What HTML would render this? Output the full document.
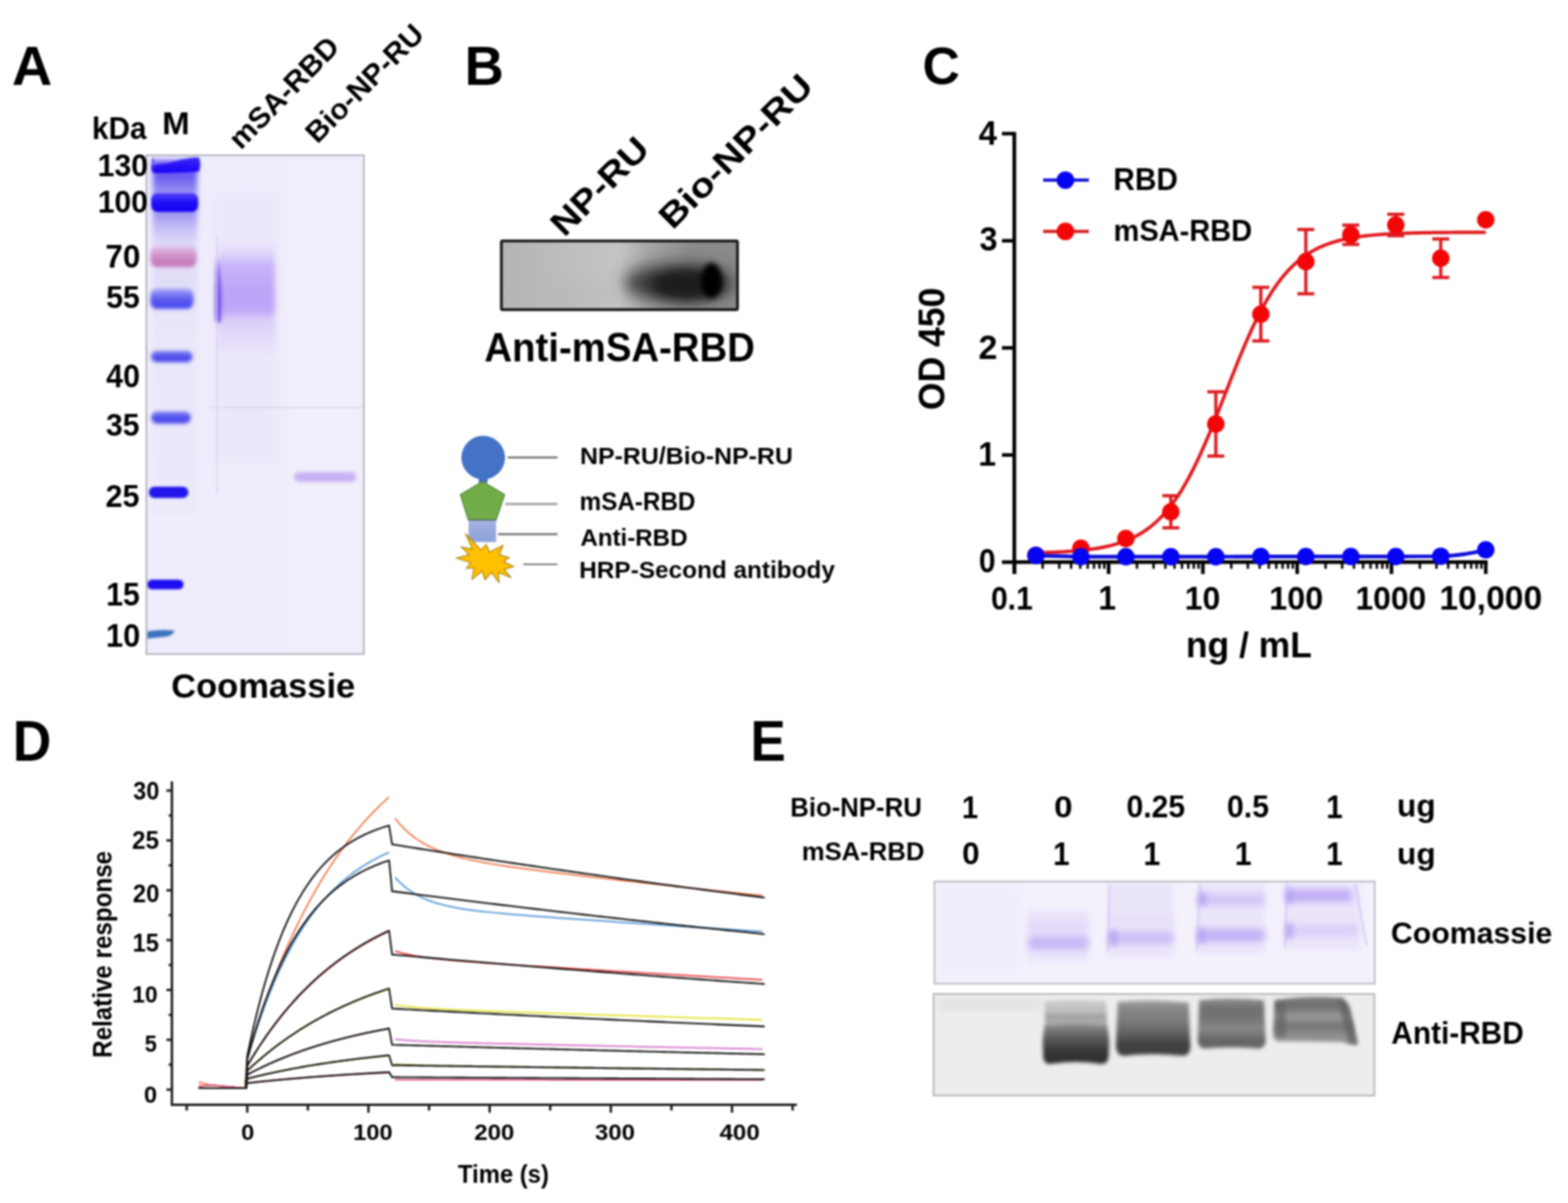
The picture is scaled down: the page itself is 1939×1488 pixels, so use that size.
<!DOCTYPE html>
<html><head><meta charset="utf-8"><title>Figure</title>
<style>
html,body{margin:0;padding:0;background:#fff;}
svg{display:block;}
#w{filter:blur(0.8px);width:1939px;height:1488px;overflow:hidden;}
text{font-family:"Liberation Sans",Arial,sans-serif;font-weight:bold;fill:#000;}
</style></head>
<body>
<div id="w">
<svg width="1939" height="1488" viewBox="0 0 1939 1488">
<defs>
<filter id="b1" filterUnits="userSpaceOnUse" x="0" y="0" width="1939" height="1488"><feGaussianBlur stdDeviation="1"/></filter>
<filter id="b2" filterUnits="userSpaceOnUse" x="0" y="0" width="1939" height="1488"><feGaussianBlur stdDeviation="2"/></filter>
<filter id="b3" filterUnits="userSpaceOnUse" x="0" y="0" width="1939" height="1488"><feGaussianBlur stdDeviation="3"/></filter>
<filter id="b4" filterUnits="userSpaceOnUse" x="0" y="0" width="1939" height="1488"><feGaussianBlur stdDeviation="4"/></filter>
<filter id="b6" filterUnits="userSpaceOnUse" x="0" y="0" width="1939" height="1488"><feGaussianBlur stdDeviation="6"/></filter>
<filter id="b10" filterUnits="userSpaceOnUse" x="0" y="0" width="1939" height="1488"><feGaussianBlur stdDeviation="10"/></filter>
<clipPath id="gelA"><rect x="182" y="193" width="267" height="615"/></clipPath><linearGradient id="mlane" x1="0" x2="0" y1="192" y2="640" gradientUnits="userSpaceOnUse">
<stop offset="0" stop-color="#6a5cf2"/><stop offset="0.06" stop-color="#6a5cf2"/><stop offset="0.1" stop-color="#9a90f3"/>
<stop offset="0.14" stop-color="#8a7ff2"/><stop offset="0.2" stop-color="#c4bef5"/><stop offset="0.24" stop-color="#dcd8f7"/>
<stop offset="0.3" stop-color="#e2dcf6"/><stop offset="0.36" stop-color="#e0def8"/><stop offset="0.45" stop-color="#e8e6f9"/>
<stop offset="1" stop-color="#eceaf9"/></linearGradient>
<linearGradient id="b130" x1="0" x2="0" y1="0" y2="1"><stop offset="0" stop-color="#3a28f4"/><stop offset="1" stop-color="#1a00f6"/></linearGradient>
<linearGradient id="b100" x1="0" x2="0" y1="0" y2="1"><stop offset="0" stop-color="#5040f4"/><stop offset="0.5" stop-color="#2010f6"/><stop offset="1" stop-color="#1800f4"/></linearGradient>
<linearGradient id="b70" x1="0" x2="0" y1="0" y2="1"><stop offset="0" stop-color="#e2c0e4"/><stop offset="0.45" stop-color="#d092c8"/><stop offset="1" stop-color="#c070b4"/></linearGradient>
<linearGradient id="b55" x1="0" x2="0" y1="0" y2="1"><stop offset="0" stop-color="#a8a8f6"/><stop offset="0.5" stop-color="#5c5cf0"/><stop offset="1" stop-color="#4444ee"/></linearGradient>
<linearGradient id="bmid" x1="0" x2="0" y1="0" y2="1"><stop offset="0" stop-color="#8080f2"/><stop offset="0.5" stop-color="#5050ee"/><stop offset="1" stop-color="#4a48ec"/></linearGradient>
<linearGradient id="smear" x1="0" x2="0" y1="0" y2="1"><stop offset="0" stop-color="#ece6fa"/><stop offset="0.1" stop-color="#e0d6fa"/><stop offset="0.2" stop-color="#c8b4f8"/>
<stop offset="0.45" stop-color="#bca4f8"/><stop offset="0.6" stop-color="#bea6f8"/><stop offset="0.68" stop-color="#dacef9"/><stop offset="1" stop-color="#ebe6f9"/></linearGradient><linearGradient id="blotg" x1="0" x2="1" y1="0" y2="0">
<stop offset="0" stop-color="#b4b4b4"/><stop offset="0.35" stop-color="#c0c0c0"/>
<stop offset="0.5" stop-color="#c4c4c4"/><stop offset="0.62" stop-color="#a8a8a8"/>
<stop offset="0.8" stop-color="#8c8c8c"/><stop offset="1" stop-color="#8a8a8a"/></linearGradient>
<clipPath id="blotc"><rect x="620" y="298" width="292" height="85"/></clipPath><linearGradient id="rbg" x1="0" x2="0" y1="0" y2="1"><stop offset="0" stop-color="#a4b2e0"/><stop offset="1" stop-color="#8ca2da"/></linearGradient><clipPath id="gelE1"><rect x="1156.5" y="1091" width="542.5" height="125"/></clipPath><clipPath id="gelE2"><rect x="1155.5" y="1230.5" width="543" height="123.5"/></clipPath><linearGradient id="wl2" x1="0" x2="0" y1="0" y2="1">
<stop offset="0" stop-color="#d2d2d2"/><stop offset="0.2" stop-color="#b8b8b8"/><stop offset="0.28" stop-color="#a2a2a2"/>
<stop offset="0.38" stop-color="#b0b0b0"/><stop offset="0.45" stop-color="#8a8a8a"/><stop offset="0.65" stop-color="#5a5a5a"/>
<stop offset="0.86" stop-color="#323232"/><stop offset="1" stop-color="#3c3c3c"/></linearGradient>
<linearGradient id="wl2a" x1="0" x2="0" y1="0" y2="1">
<stop offset="0" stop-color="#d0d0d0"/><stop offset="0.45" stop-color="#bcbcbc"/><stop offset="0.62" stop-color="#a0a0a0"/><stop offset="0.8" stop-color="#acacac"/><stop offset="1" stop-color="#a8a8a8"/></linearGradient>
<linearGradient id="wl2b" x1="0" x2="0" y1="0" y2="1">
<stop offset="0" stop-color="#8e8e8e"/><stop offset="0.35" stop-color="#5c5c5c"/><stop offset="0.7" stop-color="#353535"/><stop offset="1" stop-color="#2e2e2e"/></linearGradient>
<linearGradient id="wl3" x1="0" x2="0" y1="0" y2="1">
<stop offset="0" stop-color="#a6a6a6"/><stop offset="0.15" stop-color="#868686"/><stop offset="0.35" stop-color="#7e7e7e"/>
<stop offset="0.55" stop-color="#666666"/><stop offset="0.82" stop-color="#3e3e3e"/><stop offset="1" stop-color="#444444"/></linearGradient>
<linearGradient id="wl4" x1="0" x2="0" y1="0" y2="1">
<stop offset="0" stop-color="#8e8e8e"/><stop offset="0.22" stop-color="#6e6e6e"/><stop offset="0.5" stop-color="#7c7c7c"/>
<stop offset="0.58" stop-color="#8a8a8a"/><stop offset="0.85" stop-color="#646464"/><stop offset="1" stop-color="#6a6a6a"/></linearGradient>
<linearGradient id="wl5" x1="0" x2="0" y1="0" y2="1">
<stop offset="0" stop-color="#7a7a7a"/><stop offset="0.2" stop-color="#707070"/><stop offset="0.42" stop-color="#999999"/>
<stop offset="0.6" stop-color="#767676"/><stop offset="0.8" stop-color="#8e8e8e"/><stop offset="1" stop-color="#9a9a9a"/></linearGradient></defs>
<rect width="1939" height="1488" fill="#fff"/>
<text x="14.68" y="104.5" font-size="68.8" textLength="49.8" lengthAdjust="spacingAndGlyphs">A</text>
<text x="113.83" y="171.51" font-size="39.18" textLength="67.37" lengthAdjust="spacingAndGlyphs">kDa</text>
<text x="200.44" y="165.5" font-size="38.98" textLength="34.04" lengthAdjust="spacingAndGlyphs">M</text>
<text transform="translate(299.5,184.5) rotate(-45.5)" x="-2.41" y="0" font-size="36.0" textLength="177.0" lengthAdjust="spacingAndGlyphs">mSA-RBD</text>
<text transform="translate(394.0,177.0) rotate(-45)" x="-2.51" y="0" font-size="36.0" textLength="189.85" lengthAdjust="spacingAndGlyphs">Bio-NP-RU</text>
<rect x="181" y="192" width="269" height="617" fill="#efecfb" stroke="#b4b2bd" stroke-width="2"/>
<g clip-path="url(#gelA)">
<rect x="264" y="240" width="80" height="330" fill="#e9e3f9" filter="url(#b6)" opacity="0.55"/>
<rect x="355" y="200" width="90" height="600" fill="#f3f1fb" filter="url(#b6)" opacity="0.6"/>
<rect x="189" y="198" width="55" height="440" fill="url(#mlane)" filter="url(#b3)"/>
<path d="M188,204 Q200,204 215,200 Q232,195 246,194.5 Q249,203 246,212 Q220,214 190,214 Q186,210 188,204 Z" fill="url(#b130)" filter="url(#b1)"/>
<path d="M188,196 L191,196 L191,206 L188,206 Z" fill="#5a4af0" filter="url(#b1)"/>
<rect x="187" y="239" width="58" height="23" rx="8" fill="url(#b100)" filter="url(#b1)"/>
<rect x="186" y="305" width="57" height="25" rx="8" fill="url(#b70)" filter="url(#b2)"/>
<rect x="186" y="357" width="53" height="25" rx="8" fill="url(#b55)" filter="url(#b2)"/>
<rect x="187" y="434" width="51" height="14" rx="7.0" fill="url(#bmid)" filter="url(#b2)"/>
<rect x="187" y="509" width="49" height="15" rx="7.5" fill="url(#bmid)" filter="url(#b2)"/>
<rect x="184" y="602" width="49" height="14" rx="7.0" fill="#2418ec" filter="url(#b1)"/>
<rect x="182" y="717" width="45" height="12" rx="6.0" fill="#1a0af2" filter="url(#b1)"/>
<path d="M182,781 Q200,778 216,780 Q214,787 200,788 L182,790 Z" fill="#3b6fbe" filter="url(#b1)"/>
<rect x="269" y="300" width="71" height="140" fill="url(#smear)" filter="url(#b3)"/>
<path d="M268.5,318 Q276,355 273,398 Q268,401 266.5,396 Q265.5,355 268.5,318 Z" fill="#6e4ae8" opacity="0.95" filter="url(#b2)"/>
<rect x="267.5" y="290" width="1.6" height="320" fill="#d6cef4" opacity="0.8"/>
<rect x="364" y="584" width="76" height="12" rx="5" fill="#c6b0f4" filter="url(#b2)"/>
<rect x="260" y="503" width="190" height="2" fill="#dcd6e6" opacity="0.8"/>
</g>
<text x="120.87" y="218.01" font-size="39.58" textLength="62.26" lengthAdjust="spacingAndGlyphs">130</text>
<text x="120.88" y="262.51" font-size="38.87" textLength="61.94" lengthAdjust="spacingAndGlyphs">100</text>
<text x="130.35" y="331.4" font-size="40.28" textLength="43.19" lengthAdjust="spacingAndGlyphs">70</text>
<text x="131.18" y="380.9" font-size="39.71" textLength="41.85" lengthAdjust="spacingAndGlyphs">55</text>
<text x="131.34" y="479.2" font-size="39.86" textLength="41.75" lengthAdjust="spacingAndGlyphs">40</text>
<text x="131.06" y="538.92" font-size="38.73" textLength="41.56" lengthAdjust="spacingAndGlyphs">35</text>
<text x="130.58" y="627.01" font-size="38.87" textLength="42.05" lengthAdjust="spacingAndGlyphs">25</text>
<text x="131.15" y="748.8" font-size="39.86" textLength="41.88" lengthAdjust="spacingAndGlyphs">15</text>
<text x="131.12" y="799.8" font-size="39.72" textLength="42.4" lengthAdjust="spacingAndGlyphs">10</text>
<text x="211.8" y="863.3" font-size="42.21" textLength="227.42" lengthAdjust="spacingAndGlyphs">Coomassie</text>
<text x="574.46" y="104.8" font-size="69.24" textLength="48.54" lengthAdjust="spacingAndGlyphs">B</text>
<text transform="translate(700.0,292.0) rotate(-45)" x="-3.24" y="0" font-size="42.0" textLength="152.2" lengthAdjust="spacingAndGlyphs">NP-RU</text>
<text transform="translate(834.0,283.0) rotate(-45)" x="-3.29" y="0" font-size="42.0" textLength="249.37" lengthAdjust="spacingAndGlyphs">Bio-NP-RU</text>
<rect x="620" y="298" width="292" height="85" fill="url(#blotg)"/>
<g clip-path="url(#blotc)">
<ellipse cx="840" cy="350" rx="68" ry="24" fill="#3a3a3a" filter="url(#b10)"/>
<ellipse cx="850" cy="352" rx="45" ry="18" fill="#1e1e1e" filter="url(#b6)"/>
<ellipse cx="880" cy="347" rx="13" ry="22" fill="#000" filter="url(#b3)"/>
<ellipse cx="700" cy="365" rx="60" ry="15" fill="#b8b8b8" filter="url(#b10)" opacity="0.6"/>
</g>
<rect x="620" y="298" width="292" height="85" fill="none" stroke="#181818" stroke-width="3.4" rx="1.5"/>
<text x="599.01" y="446.5" font-size="49.16" textLength="334.59" lengthAdjust="spacingAndGlyphs">Anti-mSA-RBD</text>
<circle cx="597.5" cy="566" r="27" fill="#4472c4"/>
<path d="M589.5,588 Q592.5,591 592,597 L603,597 Q602.5,591 605.5,588 Z" fill="#4472c4"/>
<polygon points="596.7,595.5 624.1,611.9 613.6,642.9 579,642.9 569.3,611.9" fill="#70ad47" stroke="#52803a" stroke-width="1.3" stroke-linejoin="round"/>
<rect x="579.4" y="643.4" width="34" height="27" fill="url(#rbg)"/>
<line x1="579" y1="643.2" x2="613.8" y2="643.2" stroke="#4d6b63" stroke-width="1.2"/>
<polygon points="575.62,660.08 594.78,680.24 601.33,673.69 605.36,682.76 622.0,674.7 617.46,686.29 629.56,689.82 622.5,694.35 635.1,700.91 623.51,704.44 632.08,714.52 616.45,707.96 616.96,720.56 607.88,707.96 599.82,717.04 596.29,706.45 583.69,716.53 586.21,702.42 576.63,702.92 582.18,695.87 564.54,690.32 580.16,686.29 570.58,676.71 584.19,679.23" fill="#ffc000" stroke="#b08c1c" stroke-width="1.4" stroke-linejoin="miter"/>
<line x1="627.7" y1="565.8" x2="689.4" y2="565.8" stroke="#666666" stroke-width="2.2"/>
<line x1="624.9" y1="623.4" x2="689.4" y2="623.4" stroke="#a0a0a0" stroke-width="2.8"/>
<line x1="616.0" y1="660.8" x2="689.4" y2="660.8" stroke="#707070" stroke-width="2.4"/>
<line x1="647.0" y1="698.0" x2="689.4" y2="698.0" stroke="#777777" stroke-width="2.2"/>
<text x="717.32" y="573.9" font-size="29.38" textLength="263.2" lengthAdjust="spacingAndGlyphs">NP-RU/Bio-NP-RU</text>
<text x="716.75" y="631.4" font-size="30.98" textLength="143.24" lengthAdjust="spacingAndGlyphs">mSA-RBD</text>
<text x="717.65" y="674.7" font-size="30.11" textLength="132.57" lengthAdjust="spacingAndGlyphs">Anti-RBD</text>
<text x="716.37" y="714.5" font-size="29.38" textLength="316.11" lengthAdjust="spacingAndGlyphs">HRP-Second antibody</text>
<text x="1140.74" y="104.2" font-size="65.09" textLength="46.2" lengthAdjust="spacingAndGlyphs">C</text>
<line x1="1254.3" y1="163.3" x2="1254.3" y2="710.0" stroke="#000" stroke-width="4.6"/>
<line x1="1252.0" y1="695.3" x2="1839.6" y2="695.3" stroke="#000" stroke-width="4.6"/>
<line x1="1239.0" y1="695.3" x2="1254.3" y2="695.3" stroke="#000" stroke-width="4.4"/>
<text x="1210.62" y="708.08" font-size="41.84" textLength="20.61" lengthAdjust="spacingAndGlyphs">0</text>
<line x1="1239.0" y1="562.8" x2="1254.3" y2="562.8" stroke="#000" stroke-width="4.4"/>
<text x="1209.86" y="576.0" font-size="43.05" textLength="22.03" lengthAdjust="spacingAndGlyphs">1</text>
<line x1="1239.0" y1="430.3" x2="1254.3" y2="430.3" stroke="#000" stroke-width="4.4"/>
<text x="1210.03" y="443.5" font-size="42.44" textLength="23.41" lengthAdjust="spacingAndGlyphs">2</text>
<line x1="1239.0" y1="297.8" x2="1254.3" y2="297.8" stroke="#000" stroke-width="4.4"/>
<text x="1211.2" y="310.48" font-size="41.69" textLength="22.36" lengthAdjust="spacingAndGlyphs">3</text>
<line x1="1239.0" y1="165.3" x2="1254.3" y2="165.3" stroke="#000" stroke-width="4.4"/>
<text x="1210.29" y="178.5" font-size="43.05" textLength="22.66" lengthAdjust="spacingAndGlyphs">4</text>
<line x1="1254.3" y1="695.3" x2="1254.3" y2="710.0" stroke="#000" stroke-width="4.4"/>
<line x1="1370.9" y1="695.3" x2="1370.9" y2="710.0" stroke="#000" stroke-width="4.4"/>
<line x1="1487.5" y1="695.3" x2="1487.5" y2="710.0" stroke="#000" stroke-width="4.4"/>
<line x1="1604.1" y1="695.3" x2="1604.1" y2="710.0" stroke="#000" stroke-width="4.4"/>
<line x1="1720.7" y1="695.3" x2="1720.7" y2="710.0" stroke="#000" stroke-width="4.4"/>
<line x1="1837.3" y1="695.3" x2="1837.3" y2="710.0" stroke="#000" stroke-width="4.4"/>
<line x1="1289.4" y1="695.3" x2="1289.4" y2="703.5" stroke="#000" stroke-width="3"/>
<line x1="1309.93" y1="695.3" x2="1309.93" y2="703.5" stroke="#000" stroke-width="3"/>
<line x1="1324.5" y1="695.3" x2="1324.5" y2="703.5" stroke="#000" stroke-width="3"/>
<line x1="1335.8" y1="695.3" x2="1335.8" y2="703.5" stroke="#000" stroke-width="3"/>
<line x1="1345.03" y1="695.3" x2="1345.03" y2="703.5" stroke="#000" stroke-width="3"/>
<line x1="1352.84" y1="695.3" x2="1352.84" y2="703.5" stroke="#000" stroke-width="3"/>
<line x1="1359.6" y1="695.3" x2="1359.6" y2="703.5" stroke="#000" stroke-width="3"/>
<line x1="1365.56" y1="695.3" x2="1365.56" y2="703.5" stroke="#000" stroke-width="3"/>
<line x1="1406.0" y1="695.3" x2="1406.0" y2="703.5" stroke="#000" stroke-width="3"/>
<line x1="1426.53" y1="695.3" x2="1426.53" y2="703.5" stroke="#000" stroke-width="3"/>
<line x1="1441.1" y1="695.3" x2="1441.1" y2="703.5" stroke="#000" stroke-width="3"/>
<line x1="1452.4" y1="695.3" x2="1452.4" y2="703.5" stroke="#000" stroke-width="3"/>
<line x1="1461.63" y1="695.3" x2="1461.63" y2="703.5" stroke="#000" stroke-width="3"/>
<line x1="1469.44" y1="695.3" x2="1469.44" y2="703.5" stroke="#000" stroke-width="3"/>
<line x1="1476.2" y1="695.3" x2="1476.2" y2="703.5" stroke="#000" stroke-width="3"/>
<line x1="1482.16" y1="695.3" x2="1482.16" y2="703.5" stroke="#000" stroke-width="3"/>
<line x1="1522.6" y1="695.3" x2="1522.6" y2="703.5" stroke="#000" stroke-width="3"/>
<line x1="1543.13" y1="695.3" x2="1543.13" y2="703.5" stroke="#000" stroke-width="3"/>
<line x1="1557.7" y1="695.3" x2="1557.7" y2="703.5" stroke="#000" stroke-width="3"/>
<line x1="1569.0" y1="695.3" x2="1569.0" y2="703.5" stroke="#000" stroke-width="3"/>
<line x1="1578.23" y1="695.3" x2="1578.23" y2="703.5" stroke="#000" stroke-width="3"/>
<line x1="1586.04" y1="695.3" x2="1586.04" y2="703.5" stroke="#000" stroke-width="3"/>
<line x1="1592.8" y1="695.3" x2="1592.8" y2="703.5" stroke="#000" stroke-width="3"/>
<line x1="1598.76" y1="695.3" x2="1598.76" y2="703.5" stroke="#000" stroke-width="3"/>
<line x1="1639.2" y1="695.3" x2="1639.2" y2="703.5" stroke="#000" stroke-width="3"/>
<line x1="1659.73" y1="695.3" x2="1659.73" y2="703.5" stroke="#000" stroke-width="3"/>
<line x1="1674.3" y1="695.3" x2="1674.3" y2="703.5" stroke="#000" stroke-width="3"/>
<line x1="1685.6" y1="695.3" x2="1685.6" y2="703.5" stroke="#000" stroke-width="3"/>
<line x1="1694.83" y1="695.3" x2="1694.83" y2="703.5" stroke="#000" stroke-width="3"/>
<line x1="1702.64" y1="695.3" x2="1702.64" y2="703.5" stroke="#000" stroke-width="3"/>
<line x1="1709.4" y1="695.3" x2="1709.4" y2="703.5" stroke="#000" stroke-width="3"/>
<line x1="1715.36" y1="695.3" x2="1715.36" y2="703.5" stroke="#000" stroke-width="3"/>
<line x1="1755.8" y1="695.3" x2="1755.8" y2="703.5" stroke="#000" stroke-width="3"/>
<line x1="1776.33" y1="695.3" x2="1776.33" y2="703.5" stroke="#000" stroke-width="3"/>
<line x1="1790.9" y1="695.3" x2="1790.9" y2="703.5" stroke="#000" stroke-width="3"/>
<line x1="1802.2" y1="695.3" x2="1802.2" y2="703.5" stroke="#000" stroke-width="3"/>
<line x1="1811.43" y1="695.3" x2="1811.43" y2="703.5" stroke="#000" stroke-width="3"/>
<line x1="1819.24" y1="695.3" x2="1819.24" y2="703.5" stroke="#000" stroke-width="3"/>
<line x1="1826.0" y1="695.3" x2="1826.0" y2="703.5" stroke="#000" stroke-width="3"/>
<line x1="1831.96" y1="695.3" x2="1831.96" y2="703.5" stroke="#000" stroke-width="3"/>
<text x="1225.41" y="753.89" font-size="41.41" textLength="51.72" lengthAdjust="spacingAndGlyphs">0.1</text>
<text x="1358.13" y="754.3" font-size="42.62" textLength="21.81" lengthAdjust="spacingAndGlyphs">1</text>
<text x="1464.92" y="753.89" font-size="41.41" textLength="44.05" lengthAdjust="spacingAndGlyphs">10</text>
<text x="1569.4" y="753.89" font-size="41.41" textLength="66.85" lengthAdjust="spacingAndGlyphs">100</text>
<text x="1676.14" y="753.89" font-size="41.41" textLength="87.52" lengthAdjust="spacingAndGlyphs">1000</text>
<text x="1779.9" y="754.13" font-size="41.76" textLength="127.11" lengthAdjust="spacingAndGlyphs">10,000</text>
<text x="1466.55" y="813.1" font-size="43.49" textLength="155.78" lengthAdjust="spacingAndGlyphs">ng / mL</text>
<text transform="translate(1168.0,505.5) rotate(-90)" x="-1.76" y="0" font-size="45.5" textLength="151.38" lengthAdjust="spacingAndGlyphs">OD 450</text>
<path d="M1280.98,683.77 L1283.76,683.7 L1286.54,683.63 L1289.32,683.55 L1292.1,683.46 L1294.88,683.37 L1297.67,683.27 L1300.45,683.16 L1303.23,683.05 L1306.01,682.93 L1308.79,682.8 L1311.57,682.65 L1314.36,682.5 L1317.14,682.34 L1319.92,682.17 L1322.7,681.98 L1325.48,681.78 L1328.26,681.56 L1331.05,681.33 L1333.83,681.08 L1336.61,680.82 L1339.39,680.53 L1342.17,680.22 L1344.95,679.89 L1347.74,679.54 L1350.52,679.16 L1353.3,678.76 L1356.08,678.32 L1358.86,677.85 L1361.64,677.35 L1364.43,676.82 L1367.21,676.24 L1369.99,675.63 L1372.77,674.97 L1375.55,674.26 L1378.33,673.51 L1381.11,672.7 L1383.9,671.84 L1386.68,670.91 L1389.46,669.92 L1392.24,668.87 L1395.02,667.74 L1397.8,666.54 L1400.59,665.25 L1403.37,663.88 L1406.15,662.42 L1408.93,660.86 L1411.71,659.2 L1414.49,657.43 L1417.28,655.55 L1420.06,653.55 L1422.84,651.42 L1425.62,649.17 L1428.4,646.77 L1431.18,644.24 L1433.97,641.55 L1436.75,638.71 L1439.53,635.71 L1442.31,632.54 L1445.09,629.2 L1447.87,625.69 L1450.66,621.99 L1453.44,618.1 L1456.22,614.02 L1459.0,609.75 L1461.78,605.29 L1464.56,600.63 L1467.34,595.77 L1470.13,590.72 L1472.91,585.47 L1475.69,580.03 L1478.47,574.4 L1481.25,568.59 L1484.03,562.6 L1486.82,556.44 L1489.6,550.13 L1492.38,543.67 L1495.16,537.07 L1497.94,530.34 L1500.72,523.51 L1503.51,516.59 L1506.29,509.59 L1509.07,502.53 L1511.85,495.43 L1514.63,488.3 L1517.41,481.16 L1520.2,474.04 L1522.98,466.95 L1525.76,459.91 L1528.54,452.93 L1531.32,446.04 L1534.1,439.25 L1536.89,432.56 L1539.67,426.01 L1542.45,419.6 L1545.23,413.34 L1548.01,407.24 L1550.79,401.31 L1553.58,395.56 L1556.36,389.99 L1559.14,384.62 L1561.92,379.43 L1564.7,374.45 L1567.48,369.66 L1570.26,365.06 L1573.05,360.66 L1575.83,356.46 L1578.61,352.45 L1581.39,348.63 L1584.17,344.99 L1586.95,341.54 L1589.74,338.26 L1592.52,335.14 L1595.3,332.2 L1598.08,329.41 L1600.86,326.78 L1603.64,324.29 L1606.43,321.95 L1609.21,319.74 L1611.99,317.66 L1614.77,315.7 L1617.55,313.86 L1620.33,312.13 L1623.12,310.5 L1625.9,308.97 L1628.68,307.54 L1631.46,306.2 L1634.24,304.94 L1637.02,303.77 L1639.81,302.66 L1642.59,301.63 L1645.37,300.66 L1648.15,299.76 L1650.93,298.92 L1653.71,298.13 L1656.49,297.39 L1659.28,296.7 L1662.06,296.06 L1664.84,295.46 L1667.62,294.9 L1670.4,294.37 L1673.18,293.88 L1675.97,293.43 L1678.75,293.0 L1681.53,292.61 L1684.31,292.24 L1687.09,291.89 L1689.87,291.57 L1692.66,291.27 L1695.44,290.99 L1698.22,290.73 L1701.0,290.49 L1703.78,290.26 L1706.56,290.05 L1709.35,289.86 L1712.13,289.67 L1714.91,289.5 L1717.69,289.34 L1720.47,289.2 L1723.25,289.06 L1726.04,288.93 L1728.82,288.81 L1731.6,288.7 L1734.38,288.6 L1737.16,288.5 L1739.94,288.41 L1742.73,288.33 L1745.51,288.25 L1748.29,288.18 L1751.07,288.11 L1753.85,288.05 L1756.63,287.99 L1759.41,287.93 L1762.2,287.88 L1764.98,287.83 L1767.76,287.79 L1770.54,287.75 L1773.32,287.71 L1776.1,287.68 L1778.89,287.64 L1781.67,287.61 L1784.45,287.58 L1787.23,287.56 L1790.01,287.53 L1792.79,287.51 L1795.58,287.49 L1798.36,287.47 L1801.14,287.45 L1803.92,287.43 L1806.7,287.42 L1809.48,287.4 L1812.27,287.39 L1815.05,287.37 L1817.83,287.36 L1820.61,287.35 L1823.39,287.34 L1826.17,287.33 L1828.96,287.32 L1831.74,287.31 L1834.52,287.31 L1837.3,287.3" stroke="#e01a1e" stroke-width="4.2" fill="none" stroke-linejoin="round"/>
<circle cx="1280.98" cy="686.69" r="10.8" fill="#f20606"/>
<circle cx="1336.61" cy="678.07" r="10.8" fill="#f20606"/>
<circle cx="1392.24" cy="666.15" r="10.8" fill="#f20606"/>
<line x1="1447.87" y1="613.15" x2="1447.87" y2="652.9" stroke="#dc1c22" stroke-width="4"/>
<line x1="1437.37" y1="613.15" x2="1458.37" y2="613.15" stroke="#dc1c22" stroke-width="4"/>
<line x1="1437.37" y1="652.9" x2="1458.37" y2="652.9" stroke="#dc1c22" stroke-width="4"/>
<circle cx="1447.87" cy="633.02" r="10.8" fill="#f20606"/>
<line x1="1503.51" y1="484.62" x2="1503.51" y2="564.12" stroke="#dc1c22" stroke-width="4"/>
<line x1="1493.01" y1="484.62" x2="1514.01" y2="484.62" stroke="#dc1c22" stroke-width="4"/>
<line x1="1493.01" y1="564.12" x2="1514.01" y2="564.12" stroke="#dc1c22" stroke-width="4"/>
<circle cx="1503.51" cy="524.38" r="10.8" fill="#f20606"/>
<line x1="1559.14" y1="355.44" x2="1559.14" y2="421.69" stroke="#dc1c22" stroke-width="4"/>
<line x1="1548.64" y1="355.44" x2="1569.64" y2="355.44" stroke="#dc1c22" stroke-width="4"/>
<line x1="1548.64" y1="421.69" x2="1569.64" y2="421.69" stroke="#dc1c22" stroke-width="4"/>
<circle cx="1559.14" cy="388.56" r="10.8" fill="#f20606"/>
<line x1="1614.77" y1="283.89" x2="1614.77" y2="363.39" stroke="#dc1c22" stroke-width="4"/>
<line x1="1604.27" y1="283.89" x2="1625.27" y2="283.89" stroke="#dc1c22" stroke-width="4"/>
<line x1="1604.27" y1="363.39" x2="1625.27" y2="363.39" stroke="#dc1c22" stroke-width="4"/>
<circle cx="1614.77" cy="323.64" r="10.8" fill="#f20606"/>
<line x1="1670.4" y1="278.45" x2="1670.4" y2="302.3" stroke="#dc1c22" stroke-width="4"/>
<line x1="1659.9" y1="278.45" x2="1680.9" y2="278.45" stroke="#dc1c22" stroke-width="4"/>
<line x1="1659.9" y1="302.3" x2="1680.9" y2="302.3" stroke="#dc1c22" stroke-width="4"/>
<circle cx="1670.4" cy="290.38" r="10.8" fill="#f20606"/>
<line x1="1726.04" y1="265.07" x2="1726.04" y2="291.57" stroke="#dc1c22" stroke-width="4"/>
<line x1="1715.54" y1="265.07" x2="1736.54" y2="265.07" stroke="#dc1c22" stroke-width="4"/>
<line x1="1715.54" y1="291.57" x2="1736.54" y2="291.57" stroke="#dc1c22" stroke-width="4"/>
<circle cx="1726.04" cy="278.32" r="10.8" fill="#f20606"/>
<line x1="1781.67" y1="295.55" x2="1781.67" y2="343.25" stroke="#dc1c22" stroke-width="4"/>
<line x1="1771.17" y1="295.55" x2="1792.17" y2="295.55" stroke="#dc1c22" stroke-width="4"/>
<line x1="1771.17" y1="343.25" x2="1792.17" y2="343.25" stroke="#dc1c22" stroke-width="4"/>
<circle cx="1781.67" cy="319.4" r="10.8" fill="#f20606"/>
<circle cx="1837.3" cy="271.83" r="10.8" fill="#f20606"/>
<path d="M1280.98,687.08 L1336.61,688.67 L1392.24,688.67 L1447.87,688.67 L1503.51,688.67 L1559.14,688.41 L1614.77,688.41 L1670.4,688.41 L1726.04,688.41 L1781.67,688.01 Q1812.3,687.01 1837.3,680.06" stroke="#1010d8" stroke-width="4.6" fill="none"/>
<circle cx="1280.98" cy="687.08" r="10.8" fill="#0505f2"/>
<circle cx="1336.61" cy="688.67" r="10.8" fill="#0505f2"/>
<circle cx="1392.24" cy="688.67" r="10.8" fill="#0505f2"/>
<circle cx="1447.87" cy="688.67" r="10.8" fill="#0505f2"/>
<circle cx="1503.51" cy="688.67" r="10.8" fill="#0505f2"/>
<circle cx="1559.14" cy="688.41" r="10.8" fill="#0505f2"/>
<circle cx="1614.77" cy="688.41" r="10.8" fill="#0505f2"/>
<circle cx="1670.4" cy="688.41" r="10.8" fill="#0505f2"/>
<circle cx="1726.04" cy="688.41" r="10.8" fill="#0505f2"/>
<circle cx="1781.67" cy="688.01" r="10.8" fill="#0505f2"/>
<circle cx="1837.3" cy="680.06" r="10.8" fill="#0505f2"/>
<line x1="1290.0" y1="222.8" x2="1346.5" y2="222.8" stroke="#1010d0" stroke-width="4"/>
<circle cx="1317.5" cy="222.8" r="10.9" fill="#0505f2"/>
<line x1="1290.0" y1="286.2" x2="1346.5" y2="286.2" stroke="#d01c22" stroke-width="4"/>
<circle cx="1317.5" cy="286.2" r="10.9" fill="#f20606"/>
<text x="1376.81" y="235.4" font-size="38.25" textLength="79.82" lengthAdjust="spacingAndGlyphs">RBD</text>
<text x="1376.97" y="298.3" font-size="36.86" textLength="171.47" lengthAdjust="spacingAndGlyphs">mSA-RBD</text>
<text x="15.84" y="941.4" font-size="69.53" textLength="47.75" lengthAdjust="spacingAndGlyphs">D</text>
<line x1="212.6" y1="966.5" x2="212.6" y2="1367.8" stroke="#1e1e1e" stroke-width="3"/>
<line x1="211.1" y1="1366.4" x2="985.4" y2="1366.4" stroke="#1e1e1e" stroke-width="3"/>
<line x1="205.8" y1="1347.8" x2="212.6" y2="1347.8" stroke="#1e1e1e" stroke-width="3"/>
<line x1="205.8" y1="1286.15" x2="212.6" y2="1286.15" stroke="#1e1e1e" stroke-width="3"/>
<line x1="205.8" y1="1224.5" x2="212.6" y2="1224.5" stroke="#1e1e1e" stroke-width="3"/>
<line x1="205.8" y1="1162.85" x2="212.6" y2="1162.85" stroke="#1e1e1e" stroke-width="3"/>
<line x1="205.8" y1="1101.2" x2="212.6" y2="1101.2" stroke="#1e1e1e" stroke-width="3"/>
<line x1="205.8" y1="1039.55" x2="212.6" y2="1039.55" stroke="#1e1e1e" stroke-width="3"/>
<line x1="205.8" y1="977.9" x2="212.6" y2="977.9" stroke="#1e1e1e" stroke-width="3"/>
<line x1="208.6" y1="1316.97" x2="212.6" y2="1316.97" stroke="#1e1e1e" stroke-width="3"/>
<line x1="208.6" y1="1255.33" x2="212.6" y2="1255.33" stroke="#1e1e1e" stroke-width="3"/>
<line x1="208.6" y1="1193.67" x2="212.6" y2="1193.67" stroke="#1e1e1e" stroke-width="3"/>
<line x1="208.6" y1="1132.02" x2="212.6" y2="1132.02" stroke="#1e1e1e" stroke-width="3"/>
<line x1="208.6" y1="1070.38" x2="212.6" y2="1070.38" stroke="#1e1e1e" stroke-width="3"/>
<line x1="208.6" y1="1008.72" x2="212.6" y2="1008.72" stroke="#1e1e1e" stroke-width="3"/>
<line x1="230.88" y1="1366.4" x2="230.88" y2="1373.6" stroke="#1e1e1e" stroke-width="3"/>
<line x1="305.8" y1="1366.4" x2="305.8" y2="1376.3" stroke="#1e1e1e" stroke-width="3"/>
<line x1="380.73" y1="1366.4" x2="380.73" y2="1373.6" stroke="#1e1e1e" stroke-width="3"/>
<line x1="455.65" y1="1366.4" x2="455.65" y2="1376.3" stroke="#1e1e1e" stroke-width="3"/>
<line x1="530.58" y1="1366.4" x2="530.58" y2="1373.6" stroke="#1e1e1e" stroke-width="3"/>
<line x1="605.5" y1="1366.4" x2="605.5" y2="1376.3" stroke="#1e1e1e" stroke-width="3"/>
<line x1="680.42" y1="1366.4" x2="680.42" y2="1373.6" stroke="#1e1e1e" stroke-width="3"/>
<line x1="755.35" y1="1366.4" x2="755.35" y2="1376.3" stroke="#1e1e1e" stroke-width="3"/>
<line x1="830.28" y1="1366.4" x2="830.28" y2="1373.6" stroke="#1e1e1e" stroke-width="3"/>
<line x1="905.2" y1="1366.4" x2="905.2" y2="1376.3" stroke="#1e1e1e" stroke-width="3"/>
<line x1="980.12" y1="1366.4" x2="980.12" y2="1373.6" stroke="#1e1e1e" stroke-width="3"/>
<text x="164.85" y="989.22" font-size="30.56" textLength="32.07" lengthAdjust="spacingAndGlyphs">30</text>
<text x="163.35" y="1050.39" font-size="30.67" textLength="33.34" lengthAdjust="spacingAndGlyphs">25</text>
<text x="164.27" y="1115.59" font-size="30.81" textLength="32.78" lengthAdjust="spacingAndGlyphs">20</text>
<text x="164.07" y="1176.59" font-size="30.82" textLength="32.61" lengthAdjust="spacingAndGlyphs">15</text>
<text x="163.54" y="1239.61" font-size="29.12" textLength="31.36" lengthAdjust="spacingAndGlyphs">10</text>
<text x="178.93" y="1300.7" font-size="29.53" textLength="14.94" lengthAdjust="spacingAndGlyphs">5</text>
<text x="178.03" y="1364.11" font-size="28.98" textLength="16.28" lengthAdjust="spacingAndGlyphs">0</text>
<text x="298.33" y="1410.42" font-size="27.84" textLength="16.28" lengthAdjust="spacingAndGlyphs">0</text>
<text x="436.67" y="1410.42" font-size="27.84" textLength="48.83" lengthAdjust="spacingAndGlyphs">100</text>
<text x="586.46" y="1410.42" font-size="27.84" textLength="49.56" lengthAdjust="spacingAndGlyphs">200</text>
<text x="735.83" y="1410.35" font-size="27.75" textLength="49.38" lengthAdjust="spacingAndGlyphs">300</text>
<text x="889.75" y="1410.42" font-size="27.84" textLength="49.87" lengthAdjust="spacingAndGlyphs">400</text>
<text x="566.23" y="1463.0" font-size="31.71" textLength="112.57" lengthAdjust="spacingAndGlyphs">Time (s)</text>
<text transform="translate(137.6,1306.4) rotate(-90)" x="-2.02" y="0" font-size="32.5" textLength="255.86" lengthAdjust="spacingAndGlyphs">Relative response</text>
<path d="M245.86,1338.55 L260.85,1342.25 L302.8,1345.95 L305.8,1305.88 L307.3,1301.02 L308.8,1296.22 L310.3,1291.47 L311.79,1286.77 L313.29,1282.12 L314.79,1277.53 L316.29,1272.98 L317.79,1268.49 L319.29,1264.05 L320.79,1259.65 L322.28,1255.3 L323.78,1251.01 L325.28,1246.75 L326.78,1242.55 L328.28,1238.39 L329.78,1234.28 L331.27,1230.21 L332.77,1226.19 L334.27,1222.21 L335.77,1218.28 L337.27,1214.39 L338.77,1210.54 L340.27,1206.74 L341.76,1202.98 L343.26,1199.25 L344.76,1195.57 L346.26,1191.93 L347.76,1188.33 L349.26,1184.77 L350.75,1181.25 L352.25,1177.77 L353.75,1174.33 L355.25,1170.92 L356.75,1167.56 L358.25,1164.23 L359.75,1160.93 L361.24,1157.68 L362.74,1154.45 L364.24,1151.27 L365.74,1148.12 L367.24,1145.0 L368.74,1141.92 L370.24,1138.87 L371.73,1135.86 L373.23,1132.88 L374.73,1129.93 L376.23,1127.02 L377.73,1124.13 L379.23,1121.28 L380.73,1118.46 L382.22,1115.67 L383.72,1112.92 L385.22,1110.19 L386.72,1107.49 L388.22,1104.82 L389.72,1102.19 L391.21,1099.58 L392.71,1097.0 L394.21,1094.44 L395.71,1091.92 L397.21,1089.43 L398.71,1086.96 L400.21,1084.52 L401.7,1082.1 L403.2,1079.71 L404.7,1077.35 L406.2,1075.02 L407.7,1072.71 L409.2,1070.43 L410.69,1068.17 L412.19,1065.93 L413.69,1063.73 L415.19,1061.54 L416.69,1059.38 L418.19,1057.24 L419.69,1055.13 L421.18,1053.04 L422.68,1050.97 L424.18,1048.93 L425.68,1046.91 L427.18,1044.91 L428.68,1042.93 L430.18,1040.98 L431.67,1039.05 L433.17,1037.13 L434.67,1035.24 L436.17,1033.37 L437.67,1031.52 L439.17,1029.69 L440.67,1027.88 L442.16,1026.1 L443.66,1024.33 L445.16,1022.58 L446.66,1020.85 L448.16,1019.13 L449.66,1017.44 L451.15,1015.77 L452.65,1014.11 L454.15,1012.48 L455.65,1010.86 L457.15,1009.26 L458.65,1007.67 L460.15,1006.11 L461.64,1004.56 L463.14,1003.03 L464.64,1001.51 L466.14,1000.01 L467.64,998.53 L469.14,997.07 L470.63,995.62 L472.13,994.19 L473.63,992.77 L475.13,991.37 L476.63,989.98 L478.13,988.61 L479.63,987.26 L481.12,985.91 M488.62,1012.42 L491.61,1016.12 L494.61,1019.56 L497.61,1022.77 L500.61,1025.76 L503.6,1028.54 L506.6,1031.15 L509.6,1033.58 L512.59,1035.85 L515.59,1037.97 L518.59,1039.96 L521.58,1041.83 L524.58,1043.58 L527.58,1045.22 L530.58,1046.77 L533.57,1048.22 L536.57,1049.6 L539.57,1050.89 L542.56,1052.11 L545.56,1053.27 L548.56,1054.37 L551.55,1055.41 L554.55,1056.39 L557.55,1057.33 L560.55,1058.23 L563.54,1059.08 L566.54,1059.9 L569.54,1060.68 L572.53,1061.43 L575.53,1062.15 L583.02,1063.83 L590.51,1065.37 L598.01,1066.79 L605.5,1068.12 L612.99,1069.37 L620.49,1070.55 L627.98,1071.67 L635.47,1072.76 L642.96,1073.8 L650.45,1074.82 L657.95,1075.8 L665.44,1076.77 L672.93,1077.72 L680.42,1078.65 L687.92,1079.57 L695.41,1080.48 L702.9,1081.38 L710.39,1082.26 L717.89,1083.15 L725.38,1084.02 L732.87,1084.89 L740.37,1085.76 L747.86,1086.62 L755.35,1087.47 L762.84,1088.32 L770.34,1089.17 L777.83,1090.01 L785.32,1090.85 L792.81,1091.69 L800.31,1092.52 L807.8,1093.35 L815.29,1094.18 L822.78,1095.0 L830.28,1095.83 L837.77,1096.64 L845.26,1097.46 L852.75,1098.27 L860.24,1099.08 L867.74,1099.89 L875.23,1100.69 L882.72,1101.5 L890.21,1102.3 L897.71,1103.09 L905.2,1103.89 L912.69,1104.68 L920.18,1105.47 L927.68,1106.25 L935.17,1107.04 L942.66,1107.82" stroke="#f07c50" stroke-width="2.0" fill="none" stroke-linejoin="round"/>
<path d="M245.86,1343.48 L260.85,1342.25 L302.8,1345.95 L305.8,1310.19 L307.3,1305.05 L308.8,1300.0 L310.3,1295.04 L311.79,1290.17 L313.29,1285.38 L314.79,1280.67 L316.29,1276.05 L317.79,1271.51 L319.29,1267.05 L320.79,1262.66 L322.28,1258.36 L323.78,1254.13 L325.28,1249.97 L326.78,1245.89 L328.28,1241.88 L329.78,1237.94 L331.27,1234.07 L332.77,1230.26 L334.27,1226.53 L335.77,1222.86 L337.27,1219.25 L338.77,1215.71 L340.27,1212.22 L341.76,1208.8 L343.26,1205.44 L344.76,1202.14 L346.26,1198.9 L347.76,1195.72 L349.26,1192.59 L350.75,1189.51 L352.25,1186.49 L353.75,1183.52 L355.25,1180.61 L356.75,1177.74 L358.25,1174.93 L359.75,1172.16 L361.24,1169.45 L362.74,1166.78 L364.24,1164.16 L365.74,1161.58 L367.24,1159.05 L368.74,1156.57 L370.24,1154.12 L371.73,1151.73 L373.23,1149.37 L374.73,1147.05 L376.23,1144.78 L377.73,1142.54 L379.23,1140.35 L380.73,1138.19 L382.22,1136.07 L383.72,1133.99 L385.22,1131.94 L386.72,1129.93 L388.22,1127.96 L389.72,1126.02 L391.21,1124.11 L392.71,1122.24 L394.21,1120.4 L395.71,1118.6 L397.21,1116.82 L398.71,1115.08 L400.21,1113.36 L401.7,1111.68 L403.2,1110.03 L404.7,1108.4 L406.2,1106.81 L407.7,1105.24 L409.2,1103.7 L410.69,1102.19 L412.19,1100.7 L413.69,1099.24 L415.19,1097.8 L416.69,1096.39 L418.19,1095.01 L419.69,1093.65 L421.18,1092.31 L422.68,1091.0 L424.18,1089.71 L425.68,1088.44 L427.18,1087.19 L428.68,1085.97 L430.18,1084.77 L431.67,1083.59 L433.17,1082.43 L434.67,1081.29 L436.17,1080.17 L437.67,1079.07 L439.17,1077.99 L440.67,1076.93 L442.16,1075.88 L443.66,1074.86 L445.16,1073.85 L446.66,1072.86 L448.16,1071.89 L449.66,1070.94 L451.15,1070.0 L452.65,1069.08 L454.15,1068.17 L455.65,1067.28 L457.15,1066.41 L458.65,1065.55 L460.15,1064.71 L461.64,1063.88 L463.14,1063.07 L464.64,1062.27 L466.14,1061.48 L467.64,1060.71 L469.14,1059.95 L470.63,1059.21 L472.13,1058.47 L473.63,1057.76 L475.13,1057.05 L476.63,1056.36 L478.13,1055.67 L479.63,1055.0 L481.12,1054.35 M488.62,1085.17 L491.61,1088.47 L494.61,1091.51 L497.61,1094.3 L500.61,1096.87 L503.6,1099.24 L506.6,1101.42 L509.6,1103.44 L512.59,1105.29 L515.59,1107.01 L518.59,1108.6 L521.58,1110.07 L524.58,1111.44 L527.58,1112.7 L530.58,1113.88 L533.57,1114.97 L536.57,1115.99 L539.57,1116.93 L542.56,1117.82 L545.56,1118.65 L548.56,1119.42 L551.55,1120.15 L554.55,1120.83 L557.55,1121.47 L560.55,1122.08 L563.54,1122.65 L566.54,1123.19 L569.54,1123.7 L572.53,1124.19 L575.53,1124.66 L583.02,1125.72 L590.51,1126.69 L598.01,1127.56 L605.5,1128.37 L612.99,1129.12 L620.49,1129.82 L627.98,1130.49 L635.47,1131.13 L642.96,1131.75 L650.45,1132.34 L657.95,1132.93 L665.44,1133.5 L672.93,1134.06 L680.42,1134.61 L687.92,1135.15 L695.41,1135.69 L702.9,1136.22 L710.39,1136.75 L717.89,1137.28 L725.38,1137.8 L732.87,1138.32 L740.37,1138.84 L747.86,1139.35 L755.35,1139.87 L762.84,1140.38 L770.34,1140.89 L777.83,1141.39 L785.32,1141.9 L792.81,1142.41 L800.31,1142.91 L807.8,1143.41 L815.29,1143.91 L822.78,1144.41 L830.28,1144.91 L837.77,1145.41 L845.26,1145.9 L852.75,1146.39 L860.24,1146.89 L867.74,1147.38 L875.23,1147.87 L882.72,1148.36 L890.21,1148.85 L897.71,1149.33 L905.2,1149.82 L912.69,1150.3 L920.18,1150.79 L927.68,1151.27 L935.17,1151.75 L942.66,1152.23" stroke="#5d9bd8" stroke-width="2.0" fill="none" stroke-linejoin="round"/>
<path d="M245.86,1343.48 L260.85,1342.25 L302.8,1345.95 L305.8,1318.21 L307.3,1315.69 L308.8,1313.19 L310.3,1310.72 L311.79,1308.28 L313.29,1305.87 L314.79,1303.49 L316.29,1301.13 L317.79,1298.79 L319.29,1296.48 L320.79,1294.2 L322.28,1291.94 L323.78,1289.71 L325.28,1287.5 L326.78,1285.32 L328.28,1283.15 L329.78,1281.02 L331.27,1278.91 L332.77,1276.82 L334.27,1274.75 L335.77,1272.7 L337.27,1270.68 L338.77,1268.68 L340.27,1266.71 L341.76,1264.75 L343.26,1262.82 L344.76,1260.9 L346.26,1259.01 L347.76,1257.14 L349.26,1255.29 L350.75,1253.46 L352.25,1251.65 L353.75,1249.86 L355.25,1248.09 L356.75,1246.34 L358.25,1244.61 L359.75,1242.89 L361.24,1241.2 L362.74,1239.52 L364.24,1237.87 L365.74,1236.23 L367.24,1234.61 L368.74,1233.0 L370.24,1231.42 L371.73,1229.85 L373.23,1228.3 L374.73,1226.77 L376.23,1225.25 L377.73,1223.75 L379.23,1222.27 L380.73,1220.8 L382.22,1219.35 L383.72,1217.92 L385.22,1216.5 L386.72,1215.09 L388.22,1213.7 L389.72,1212.33 L391.21,1210.97 L392.71,1209.63 L394.21,1208.3 L395.71,1206.99 L397.21,1205.69 L398.71,1204.4 L400.21,1203.13 L401.7,1201.88 L403.2,1200.63 L404.7,1199.41 L406.2,1198.19 L407.7,1196.99 L409.2,1195.8 L410.69,1194.62 L412.19,1193.46 L413.69,1192.31 L415.19,1191.17 L416.69,1190.05 L418.19,1188.93 L419.69,1187.83 L421.18,1186.74 L422.68,1185.67 L424.18,1184.6 L425.68,1183.55 L427.18,1182.51 L428.68,1181.48 L430.18,1180.46 L431.67,1179.45 L433.17,1178.46 L434.67,1177.47 L436.17,1176.5 L437.67,1175.53 L439.17,1174.58 L440.67,1173.64 L442.16,1172.7 L443.66,1171.78 L445.16,1170.87 L446.66,1169.97 L448.16,1169.08 L449.66,1168.19 L451.15,1167.32 L452.65,1166.46 L454.15,1165.61 L455.65,1164.76 L457.15,1163.93 L458.65,1163.1 L460.15,1162.28 L461.64,1161.48 L463.14,1160.68 L464.64,1159.89 L466.14,1159.11 L467.64,1158.33 L469.14,1157.57 L470.63,1156.82 L472.13,1156.07 L473.63,1155.33 L475.13,1154.6 L476.63,1153.87 L478.13,1153.16 L479.63,1152.45 L481.12,1151.75 M488.62,1176.41 L491.61,1177.32 L494.61,1178.16 L497.61,1178.94 L500.61,1179.66 L503.6,1180.34 L506.6,1180.97 L509.6,1181.55 L512.59,1182.11 L515.59,1182.62 L518.59,1183.11 L521.58,1183.57 L524.58,1184.0 L527.58,1184.42 L530.58,1184.81 L533.57,1185.18 L536.57,1185.54 L539.57,1185.88 L542.56,1186.21 L545.56,1186.52 L548.56,1186.83 L551.55,1187.12 L554.55,1187.4 L557.55,1187.68 L560.55,1187.95 L563.54,1188.21 L566.54,1188.46 L569.54,1188.71 L572.53,1188.96 L575.53,1189.2 L583.02,1189.78 L590.51,1190.33 L598.01,1190.88 L605.5,1191.4 L612.99,1191.92 L620.49,1192.43 L627.98,1192.93 L635.47,1193.42 L642.96,1193.91 L650.45,1194.4 L657.95,1194.88 L665.44,1195.36 L672.93,1195.84 L680.42,1196.31 L687.92,1196.78 L695.41,1197.25 L702.9,1197.72 L710.39,1198.18 L717.89,1198.65 L725.38,1199.11 L732.87,1199.57 L740.37,1200.03 L747.86,1200.49 L755.35,1200.94 L762.84,1201.4 L770.34,1201.85 L777.83,1202.3 L785.32,1202.76 L792.81,1203.2 L800.31,1203.65 L807.8,1204.1 L815.29,1204.54 L822.78,1204.99 L830.28,1205.43 L837.77,1205.87 L845.26,1206.31 L852.75,1206.75 L860.24,1207.18 L867.74,1207.62 L875.23,1208.05 L882.72,1208.48 L890.21,1208.92 L897.71,1209.35 L905.2,1209.77 L912.69,1210.2 L920.18,1210.63 L927.68,1211.05 L935.17,1211.48 L942.66,1211.9" stroke="#e8484a" stroke-width="2.0" fill="none" stroke-linejoin="round"/>
<path d="M245.86,1343.48 L260.85,1342.25 L302.8,1345.95 L305.8,1324.37 L307.3,1322.96 L308.8,1321.56 L310.3,1320.18 L311.79,1318.8 L313.29,1317.44 L314.79,1316.09 L316.29,1314.76 L317.79,1313.43 L319.29,1312.12 L320.79,1310.82 L322.28,1309.54 L323.78,1308.26 L325.28,1307.0 L326.78,1305.75 L328.28,1304.51 L329.78,1303.28 L331.27,1302.06 L332.77,1300.86 L334.27,1299.66 L335.77,1298.48 L337.27,1297.31 L338.77,1296.15 L340.27,1295.0 L341.76,1293.86 L343.26,1292.73 L344.76,1291.61 L346.26,1290.5 L347.76,1289.4 L349.26,1288.31 L350.75,1287.23 L352.25,1286.17 L353.75,1285.11 L355.25,1284.06 L356.75,1283.02 L358.25,1281.99 L359.75,1280.97 L361.24,1279.96 L362.74,1278.96 L364.24,1277.97 L365.74,1276.99 L367.24,1276.02 L368.74,1275.05 L370.24,1274.1 L371.73,1273.15 L373.23,1272.21 L374.73,1271.28 L376.23,1270.36 L377.73,1269.45 L379.23,1268.55 L380.73,1267.65 L382.22,1266.77 L383.72,1265.89 L385.22,1265.02 L386.72,1264.16 L388.22,1263.3 L389.72,1262.46 L391.21,1261.62 L392.71,1260.79 L394.21,1259.97 L395.71,1259.15 L397.21,1258.34 L398.71,1257.54 L400.21,1256.75 L401.7,1255.97 L403.2,1255.19 L404.7,1254.42 L406.2,1253.65 L407.7,1252.9 L409.2,1252.15 L410.69,1251.4 L412.19,1250.67 L413.69,1249.94 L415.19,1249.22 L416.69,1248.5 L418.19,1247.79 L419.69,1247.09 L421.18,1246.39 L422.68,1245.7 L424.18,1245.02 L425.68,1244.35 L427.18,1243.67 L428.68,1243.01 L430.18,1242.35 L431.67,1241.7 L433.17,1241.05 L434.67,1240.41 L436.17,1239.78 L437.67,1239.15 L439.17,1238.53 L440.67,1237.91 L442.16,1237.3 L443.66,1236.7 L445.16,1236.1 L446.66,1235.51 L448.16,1234.92 L449.66,1234.33 L451.15,1233.76 L452.65,1233.18 L454.15,1232.62 L455.65,1232.06 L457.15,1231.5 L458.65,1230.95 L460.15,1230.4 L461.64,1229.86 L463.14,1229.32 L464.64,1228.79 L466.14,1228.27 L467.64,1227.75 L469.14,1227.23 L470.63,1226.72 L472.13,1226.21 L473.63,1225.71 L475.13,1225.21 L476.63,1224.72 L478.13,1224.23 L479.63,1223.75 L481.12,1223.27 M488.62,1242.99 L491.61,1243.45 L494.61,1243.88 L497.61,1244.27 L500.61,1244.63 L503.6,1244.97 L506.6,1245.29 L509.6,1245.59 L512.59,1245.87 L515.59,1246.13 L518.59,1246.38 L521.58,1246.61 L524.58,1246.83 L527.58,1247.04 L530.58,1247.24 L533.57,1247.43 L536.57,1247.62 L539.57,1247.79 L542.56,1247.96 L545.56,1248.12 L548.56,1248.27 L551.55,1248.43 L554.55,1248.57 L557.55,1248.71 L560.55,1248.85 L563.54,1248.99 L566.54,1249.12 L569.54,1249.24 L572.53,1249.37 L575.53,1249.49 L583.02,1249.79 L590.51,1250.08 L598.01,1250.36 L605.5,1250.64 L612.99,1250.91 L620.49,1251.17 L627.98,1251.43 L635.47,1251.69 L642.96,1251.95 L650.45,1252.2 L657.95,1252.45 L665.44,1252.7 L672.93,1252.95 L680.42,1253.2 L687.92,1253.45 L695.41,1253.69 L702.9,1253.94 L710.39,1254.18 L717.89,1254.42 L725.38,1254.67 L732.87,1254.91 L740.37,1255.15 L747.86,1255.39 L755.35,1255.63 L762.84,1255.87 L770.34,1256.11 L777.83,1256.35 L785.32,1256.59 L792.81,1256.82 L800.31,1257.06 L807.8,1257.29 L815.29,1257.53 L822.78,1257.76 L830.28,1258.0 L837.77,1258.23 L845.26,1258.46 L852.75,1258.7 L860.24,1258.93 L867.74,1259.16 L875.23,1259.39 L882.72,1259.62 L890.21,1259.85 L897.71,1260.07 L905.2,1260.3 L912.69,1260.53 L920.18,1260.76 L927.68,1260.98 L935.17,1261.21 L942.66,1261.43" stroke="#e6e23a" stroke-width="2.0" fill="none" stroke-linejoin="round"/>
<path d="M245.86,1343.48 L260.85,1342.25 L302.8,1345.95 L305.8,1329.31 L307.3,1328.5 L308.8,1327.71 L310.3,1326.92 L311.79,1326.14 L313.29,1325.36 L314.79,1324.6 L316.29,1323.84 L317.79,1323.09 L319.29,1322.34 L320.79,1321.6 L322.28,1320.87 L323.78,1320.15 L325.28,1319.44 L326.78,1318.73 L328.28,1318.02 L329.78,1317.33 L331.27,1316.64 L332.77,1315.96 L334.27,1315.28 L335.77,1314.61 L337.27,1313.95 L338.77,1313.29 L340.27,1312.64 L341.76,1312.0 L343.26,1311.36 L344.76,1310.73 L346.26,1310.1 L347.76,1309.48 L349.26,1308.87 L350.75,1308.26 L352.25,1307.66 L353.75,1307.06 L355.25,1306.47 L356.75,1305.88 L358.25,1305.3 L359.75,1304.73 L361.24,1304.16 L362.74,1303.6 L364.24,1303.04 L365.74,1302.49 L367.24,1301.94 L368.74,1301.4 L370.24,1300.86 L371.73,1300.33 L373.23,1299.8 L374.73,1299.28 L376.23,1298.77 L377.73,1298.26 L379.23,1297.75 L380.73,1297.25 L382.22,1296.75 L383.72,1296.26 L385.22,1295.77 L386.72,1295.29 L388.22,1294.81 L389.72,1294.34 L391.21,1293.87 L392.71,1293.4 L394.21,1292.94 L395.71,1292.49 L397.21,1292.04 L398.71,1291.59 L400.21,1291.15 L401.7,1290.71 L403.2,1290.27 L404.7,1289.84 L406.2,1289.42 L407.7,1288.99 L409.2,1288.58 L410.69,1288.16 L412.19,1287.75 L413.69,1287.35 L415.19,1286.94 L416.69,1286.55 L418.19,1286.15 L419.69,1285.76 L421.18,1285.37 L422.68,1284.99 L424.18,1284.61 L425.68,1284.24 L427.18,1283.86 L428.68,1283.49 L430.18,1283.13 L431.67,1282.77 L433.17,1282.41 L434.67,1282.05 L436.17,1281.7 L437.67,1281.35 L439.17,1281.01 L440.67,1280.67 L442.16,1280.33 L443.66,1279.99 L445.16,1279.66 L446.66,1279.33 L448.16,1279.01 L449.66,1278.69 L451.15,1278.37 L452.65,1278.05 L454.15,1277.74 L455.65,1277.43 L457.15,1277.12 L458.65,1276.82 L460.15,1276.52 L461.64,1276.22 L463.14,1275.92 L464.64,1275.63 L466.14,1275.34 L467.64,1275.05 L469.14,1274.77 L470.63,1274.49 L472.13,1274.21 L473.63,1273.93 L475.13,1273.66 L476.63,1273.38 L478.13,1273.12 L479.63,1272.85 L481.12,1272.59 M488.62,1285.53 L491.61,1285.84 L494.61,1286.12 L497.61,1286.38 L500.61,1286.62 L503.6,1286.85 L506.6,1287.06 L509.6,1287.26 L512.59,1287.44 L515.59,1287.62 L518.59,1287.78 L521.58,1287.94 L524.58,1288.08 L527.58,1288.22 L530.58,1288.35 L533.57,1288.48 L536.57,1288.6 L539.57,1288.72 L542.56,1288.83 L545.56,1288.93 L548.56,1289.04 L551.55,1289.14 L554.55,1289.23 L557.55,1289.33 L560.55,1289.42 L563.54,1289.51 L566.54,1289.59 L569.54,1289.68 L572.53,1289.76 L575.53,1289.84 L583.02,1290.04 L590.51,1290.23 L598.01,1290.41 L605.5,1290.59 L612.99,1290.77 L620.49,1290.94 L627.98,1291.12 L635.47,1291.29 L642.96,1291.45 L650.45,1291.62 L657.95,1291.78 L665.44,1291.95 L672.93,1292.11 L680.42,1292.27 L687.92,1292.44 L695.41,1292.6 L702.9,1292.76 L710.39,1292.92 L717.89,1293.08 L725.38,1293.24 L732.87,1293.39 L740.37,1293.55 L747.86,1293.71 L755.35,1293.86 L762.84,1294.02 L770.34,1294.18 L777.83,1294.33 L785.32,1294.49 L792.81,1294.64 L800.31,1294.8 L807.8,1294.95 L815.29,1295.1 L822.78,1295.25 L830.28,1295.41 L837.77,1295.56 L845.26,1295.71 L852.75,1295.86 L860.24,1296.01 L867.74,1296.16 L875.23,1296.31 L882.72,1296.46 L890.21,1296.61 L897.71,1296.76 L905.2,1296.9 L912.69,1297.05 L920.18,1297.2 L927.68,1297.35 L935.17,1297.49 L942.66,1297.64" stroke="#d77ad0" stroke-width="2.0" fill="none" stroke-linejoin="round"/>
<path d="M245.86,1343.48 L260.85,1342.25 L302.8,1345.95 L305.8,1334.24 L307.3,1333.85 L308.8,1333.47 L310.3,1333.09 L311.79,1332.72 L313.29,1332.35 L314.79,1331.98 L316.29,1331.61 L317.79,1331.25 L319.29,1330.89 L320.79,1330.54 L322.28,1330.19 L323.78,1329.84 L325.28,1329.49 L326.78,1329.15 L328.28,1328.81 L329.78,1328.47 L331.27,1328.13 L332.77,1327.8 L334.27,1327.47 L335.77,1327.15 L337.27,1326.83 L338.77,1326.5 L340.27,1326.19 L341.76,1325.87 L343.26,1325.56 L344.76,1325.25 L346.26,1324.94 L347.76,1324.64 L349.26,1324.34 L350.75,1324.04 L352.25,1323.74 L353.75,1323.45 L355.25,1323.16 L356.75,1322.87 L358.25,1322.58 L359.75,1322.3 L361.24,1322.02 L362.74,1321.74 L364.24,1321.46 L365.74,1321.19 L367.24,1320.92 L368.74,1320.65 L370.24,1320.38 L371.73,1320.12 L373.23,1319.86 L374.73,1319.6 L376.23,1319.34 L377.73,1319.08 L379.23,1318.83 L380.73,1318.58 L382.22,1318.33 L383.72,1318.08 L385.22,1317.84 L386.72,1317.59 L388.22,1317.35 L389.72,1317.12 L391.21,1316.88 L392.71,1316.65 L394.21,1316.41 L395.71,1316.18 L397.21,1315.95 L398.71,1315.73 L400.21,1315.5 L401.7,1315.28 L403.2,1315.06 L404.7,1314.84 L406.2,1314.63 L407.7,1314.41 L409.2,1314.2 L410.69,1313.99 L412.19,1313.78 L413.69,1313.57 L415.19,1313.36 L416.69,1313.16 L418.19,1312.96 L419.69,1312.76 L421.18,1312.56 L422.68,1312.36 L424.18,1312.17 L425.68,1311.97 L427.18,1311.78 L428.68,1311.59 L430.18,1311.4 L431.67,1311.22 L433.17,1311.03 L434.67,1310.85 L436.17,1310.67 L437.67,1310.49 L439.17,1310.31 L440.67,1310.13 L442.16,1309.95 L443.66,1309.78 L445.16,1309.61 L446.66,1309.43 L448.16,1309.26 L449.66,1309.1 L451.15,1308.93 L452.65,1308.76 L454.15,1308.6 L455.65,1308.44 L457.15,1308.28 L458.65,1308.12 L460.15,1307.96 L461.64,1307.8 L463.14,1307.64 L464.64,1307.49 L466.14,1307.34 L467.64,1307.19 L469.14,1307.04 L470.63,1306.89 L472.13,1306.74 L473.63,1306.59 L475.13,1306.45 L476.63,1306.3 L478.13,1306.16 L479.63,1306.02 L481.12,1305.88 M488.62,1316.36 L491.61,1316.52 L494.61,1316.67 L497.61,1316.8 L500.61,1316.93 L503.6,1317.05 L506.6,1317.17 L509.6,1317.27 L512.59,1317.37 L515.59,1317.47 L518.59,1317.56 L521.58,1317.64 L524.58,1317.72 L527.58,1317.8 L530.58,1317.87 L533.57,1317.94 L536.57,1318.01 L539.57,1318.08 L542.56,1318.14 L545.56,1318.2 L548.56,1318.26 L551.55,1318.32 L554.55,1318.37 L557.55,1318.43 L560.55,1318.48 L563.54,1318.53 L566.54,1318.58 L569.54,1318.63 L572.53,1318.68 L575.53,1318.73 L583.02,1318.84 L590.51,1318.95 L598.01,1319.06 L605.5,1319.17 L612.99,1319.28 L620.49,1319.38 L627.98,1319.48 L635.47,1319.59 L642.96,1319.69 L650.45,1319.79 L657.95,1319.88 L665.44,1319.98 L672.93,1320.08 L680.42,1320.18 L687.92,1320.28 L695.41,1320.37 L702.9,1320.47 L710.39,1320.56 L717.89,1320.66 L725.38,1320.75 L732.87,1320.85 L740.37,1320.94 L747.86,1321.04 L755.35,1321.13 L762.84,1321.22 L770.34,1321.32 L777.83,1321.41 L785.32,1321.5 L792.81,1321.59 L800.31,1321.68 L807.8,1321.78 L815.29,1321.87 L822.78,1321.96 L830.28,1322.05 L837.77,1322.14 L845.26,1322.23 L852.75,1322.32 L860.24,1322.41 L867.74,1322.49 L875.23,1322.58 L882.72,1322.67 L890.21,1322.76 L897.71,1322.85 L905.2,1322.93 L912.69,1323.02 L920.18,1323.11 L927.68,1323.19 L935.17,1323.28 L942.66,1323.36" stroke="#c8b432" stroke-width="2.0" fill="none" stroke-linejoin="round"/>
<path d="M245.86,1343.48 L260.85,1342.25 L302.8,1345.95 L305.8,1339.66 L307.3,1339.49 L308.8,1339.32 L310.3,1339.15 L311.79,1338.99 L313.29,1338.82 L314.79,1338.65 L316.29,1338.49 L317.79,1338.33 L319.29,1338.17 L320.79,1338.01 L322.28,1337.85 L323.78,1337.7 L325.28,1337.54 L326.78,1337.39 L328.28,1337.24 L329.78,1337.09 L331.27,1336.94 L332.77,1336.79 L334.27,1336.64 L335.77,1336.49 L337.27,1336.35 L338.77,1336.2 L340.27,1336.06 L341.76,1335.92 L343.26,1335.78 L344.76,1335.64 L346.26,1335.5 L347.76,1335.37 L349.26,1335.23 L350.75,1335.1 L352.25,1334.96 L353.75,1334.83 L355.25,1334.7 L356.75,1334.57 L358.25,1334.44 L359.75,1334.31 L361.24,1334.19 L362.74,1334.06 L364.24,1333.94 L365.74,1333.81 L367.24,1333.69 L368.74,1333.57 L370.24,1333.45 L371.73,1333.33 L373.23,1333.21 L374.73,1333.09 L376.23,1332.98 L377.73,1332.86 L379.23,1332.75 L380.73,1332.63 L382.22,1332.52 L383.72,1332.41 L385.22,1332.3 L386.72,1332.19 L388.22,1332.08 L389.72,1331.97 L391.21,1331.87 L392.71,1331.76 L394.21,1331.65 L395.71,1331.55 L397.21,1331.45 L398.71,1331.34 L400.21,1331.24 L401.7,1331.14 L403.2,1331.04 L404.7,1330.94 L406.2,1330.84 L407.7,1330.74 L409.2,1330.65 L410.69,1330.55 L412.19,1330.46 L413.69,1330.36 L415.19,1330.27 L416.69,1330.18 L418.19,1330.08 L419.69,1329.99 L421.18,1329.9 L422.68,1329.81 L424.18,1329.72 L425.68,1329.63 L427.18,1329.55 L428.68,1329.46 L430.18,1329.37 L431.67,1329.29 L433.17,1329.2 L434.67,1329.12 L436.17,1329.04 L437.67,1328.95 L439.17,1328.87 L440.67,1328.79 L442.16,1328.71 L443.66,1328.63 L445.16,1328.55 L446.66,1328.47 L448.16,1328.4 L449.66,1328.32 L451.15,1328.24 L452.65,1328.17 L454.15,1328.09 L455.65,1328.02 L457.15,1327.94 L458.65,1327.87 L460.15,1327.8 L461.64,1327.72 L463.14,1327.65 L464.64,1327.58 L466.14,1327.51 L467.64,1327.44 L469.14,1327.37 L470.63,1327.3 L472.13,1327.24 L473.63,1327.17 L475.13,1327.1 L476.63,1327.03 L478.13,1326.97 L479.63,1326.9 L481.12,1326.84 M488.62,1335.47 L491.61,1335.47 L494.61,1335.47 L497.61,1335.48 L500.61,1335.48 L503.6,1335.48 L506.6,1335.48 L509.6,1335.49 L512.59,1335.49 L515.59,1335.49 L518.59,1335.49 L521.58,1335.5 L524.58,1335.5 L527.58,1335.5 L530.58,1335.5 L533.57,1335.51 L536.57,1335.51 L539.57,1335.51 L542.56,1335.51 L545.56,1335.52 L548.56,1335.52 L551.55,1335.52 L554.55,1335.52 L557.55,1335.53 L560.55,1335.53 L563.54,1335.53 L566.54,1335.53 L569.54,1335.54 L572.53,1335.54 L575.53,1335.54 L583.02,1335.55 L590.51,1335.55 L598.01,1335.56 L605.5,1335.57 L612.99,1335.57 L620.49,1335.58 L627.98,1335.58 L635.47,1335.59 L642.96,1335.6 L650.45,1335.6 L657.95,1335.61 L665.44,1335.61 L672.93,1335.62 L680.42,1335.63 L687.92,1335.63 L695.41,1335.64 L702.9,1335.65 L710.39,1335.65 L717.89,1335.66 L725.38,1335.66 L732.87,1335.67 L740.37,1335.68 L747.86,1335.68 L755.35,1335.69 L762.84,1335.69 L770.34,1335.7 L777.83,1335.71 L785.32,1335.71 L792.81,1335.72 L800.31,1335.72 L807.8,1335.73 L815.29,1335.74 L822.78,1335.74 L830.28,1335.75 L837.77,1335.75 L845.26,1335.76 L852.75,1335.77 L860.24,1335.77 L867.74,1335.78 L875.23,1335.78 L882.72,1335.79 L890.21,1335.8 L897.71,1335.8 L905.2,1335.81 L912.69,1335.81 L920.18,1335.82 L927.68,1335.83 L935.17,1335.83 L942.66,1335.84" stroke="#dc5a8c" stroke-width="2.0" fill="none" stroke-linejoin="round"/>
<path d="M245.86,1345.95 L304.3,1345.95 L305.8,1305.88 L307.3,1298.67 L308.8,1291.63 L310.3,1284.76 L311.79,1278.05 L313.29,1271.51 L314.79,1265.12 L316.29,1258.88 L317.79,1252.79 L319.29,1246.84 L320.79,1241.04 L322.28,1235.37 L323.78,1229.84 L325.28,1224.44 L326.78,1219.17 L328.28,1214.02 L329.78,1209.0 L331.27,1204.1 L332.77,1199.31 L334.27,1194.64 L335.77,1190.07 L337.27,1185.62 L338.77,1181.27 L340.27,1177.03 L341.76,1172.89 L343.26,1168.84 L344.76,1164.89 L346.26,1161.04 L347.76,1157.28 L349.26,1153.61 L350.75,1150.02 L352.25,1146.52 L353.75,1143.1 L355.25,1139.77 L356.75,1136.51 L358.25,1133.33 L359.75,1130.23 L361.24,1127.2 L362.74,1124.25 L364.24,1121.36 L365.74,1118.54 L367.24,1115.79 L368.74,1113.11 L370.24,1110.48 L371.73,1107.93 L373.23,1105.43 L374.73,1102.99 L376.23,1100.61 L377.73,1098.29 L379.23,1096.02 L380.73,1093.8 L382.22,1091.64 L383.72,1089.53 L385.22,1087.47 L386.72,1085.46 L388.22,1083.5 L389.72,1081.58 L391.21,1079.71 L392.71,1077.88 L394.21,1076.1 L395.71,1074.36 L397.21,1072.66 L398.71,1071.0 L400.21,1069.38 L401.7,1067.8 L403.2,1066.26 L404.7,1064.75 L406.2,1063.28 L407.7,1061.85 L409.2,1060.44 L410.69,1059.08 L412.19,1057.74 L413.69,1056.44 L415.19,1055.16 L416.69,1053.92 L418.19,1052.71 L419.69,1051.53 L421.18,1050.37 L422.68,1049.24 L424.18,1048.14 L425.68,1047.07 L427.18,1046.02 L428.68,1044.99 L430.18,1043.99 L431.67,1043.02 L433.17,1042.06 L434.67,1041.13 L436.17,1040.22 L437.67,1039.34 L439.17,1038.47 L440.67,1037.63 L442.16,1036.8 L443.66,1036.0 L445.16,1035.21 L446.66,1034.44 L448.16,1033.69 L449.66,1032.96 L451.15,1032.25 L452.65,1031.55 L454.15,1030.87 L455.65,1030.21 L457.15,1029.56 L458.65,1028.93 L460.15,1028.31 L461.64,1027.71 L463.14,1027.12 L464.64,1026.54 L466.14,1025.98 L467.64,1025.43 L469.14,1024.9 L470.63,1024.38 L472.13,1023.87 L473.63,1023.37 L475.13,1022.88 L476.63,1022.41 L478.13,1021.95 L479.63,1021.5 L481.12,1021.05 L484.87,1044.36 L490.86,1045.33 L496.86,1046.29 L502.85,1047.25 L508.85,1048.21 L514.84,1049.16 L520.83,1050.11 L526.83,1051.06 L532.82,1052.0 L538.82,1052.94 L544.81,1053.88 L550.8,1054.82 L556.8,1055.75 L562.79,1056.68 L568.79,1057.61 L574.78,1058.53 L580.77,1059.45 L586.77,1060.37 L592.76,1061.29 L598.76,1062.2 L604.75,1063.11 L610.74,1064.01 L616.74,1064.92 L622.73,1065.82 L628.73,1066.72 L634.72,1067.61 L640.71,1068.5 L646.71,1069.39 L652.7,1070.28 L658.7,1071.16 L664.69,1072.04 L670.68,1072.92 L676.68,1073.79 L682.67,1074.67 L688.67,1075.54 L694.66,1076.4 L700.65,1077.27 L706.65,1078.13 L712.64,1078.99 L718.64,1079.84 L724.63,1080.7 L730.62,1081.55 L736.62,1082.39 L742.61,1083.24 L748.61,1084.08 L754.6,1084.92 L760.59,1085.76 L766.59,1086.59 L772.58,1087.42 L778.58,1088.25 L784.57,1089.08 L790.56,1089.9 L796.56,1090.72 L802.55,1091.54 L808.55,1092.36 L814.54,1093.17 L820.53,1093.98 L826.53,1094.79 L832.52,1095.59 L838.52,1096.4 L844.51,1097.2 L850.5,1097.99 L856.5,1098.79 L862.49,1099.58 L868.49,1100.37 L874.48,1101.16 L880.47,1101.95 L886.47,1102.73 L892.46,1103.51 L898.46,1104.29 L904.45,1105.06 L910.44,1105.83 L916.44,1106.6 L922.43,1107.37 L928.43,1108.14 L934.42,1108.9 L940.41,1109.66 L945.66,1110.32" stroke="#141414" stroke-width="2.1" fill="none" stroke-linejoin="round"/>
<path d="M245.86,1345.95 L304.3,1345.95 L305.8,1310.19 L307.3,1304.63 L308.8,1299.19 L310.3,1293.85 L311.79,1288.63 L313.29,1283.52 L314.79,1278.51 L316.29,1273.6 L317.79,1268.79 L319.29,1264.09 L320.79,1259.48 L322.28,1254.96 L323.78,1250.54 L325.28,1246.21 L326.78,1241.97 L328.28,1237.82 L329.78,1233.75 L331.27,1229.77 L332.77,1225.87 L334.27,1222.05 L335.77,1218.31 L337.27,1214.64 L338.77,1211.05 L340.27,1207.54 L341.76,1204.1 L343.26,1200.73 L344.76,1197.42 L346.26,1194.19 L347.76,1191.02 L349.26,1187.92 L350.75,1184.88 L352.25,1181.91 L353.75,1179.0 L355.25,1176.14 L356.75,1173.35 L358.25,1170.61 L359.75,1167.93 L361.24,1165.31 L362.74,1162.73 L364.24,1160.22 L365.74,1157.75 L367.24,1155.34 L368.74,1152.97 L370.24,1150.65 L371.73,1148.39 L373.23,1146.16 L374.73,1143.99 L376.23,1141.86 L377.73,1139.77 L379.23,1137.73 L380.73,1135.72 L382.22,1133.76 L383.72,1131.84 L385.22,1129.96 L386.72,1128.12 L388.22,1126.32 L389.72,1124.55 L391.21,1122.82 L392.71,1121.13 L394.21,1119.47 L395.71,1117.84 L397.21,1116.25 L398.71,1114.69 L400.21,1113.17 L401.7,1111.67 L403.2,1110.21 L404.7,1108.77 L406.2,1107.37 L407.7,1105.99 L409.2,1104.65 L410.69,1103.33 L412.19,1102.03 L413.69,1100.77 L415.19,1099.53 L416.69,1098.32 L418.19,1097.13 L419.69,1095.96 L421.18,1094.82 L422.68,1093.71 L424.18,1092.61 L425.68,1091.54 L427.18,1090.49 L428.68,1089.47 L430.18,1088.46 L431.67,1087.47 L433.17,1086.51 L434.67,1085.56 L436.17,1084.64 L437.67,1083.73 L439.17,1082.84 L440.67,1081.97 L442.16,1081.12 L443.66,1080.29 L445.16,1079.47 L446.66,1078.67 L448.16,1077.89 L449.66,1077.12 L451.15,1076.37 L452.65,1075.63 L454.15,1074.91 L455.65,1074.21 L457.15,1073.52 L458.65,1072.84 L460.15,1072.18 L461.64,1071.53 L463.14,1070.89 L464.64,1070.27 L466.14,1069.66 L467.64,1069.06 L469.14,1068.48 L470.63,1067.9 L472.13,1067.34 L473.63,1066.79 L475.13,1066.25 L476.63,1065.73 L478.13,1065.21 L479.63,1064.71 L481.12,1064.21 L484.87,1102.34 L490.86,1103.11 L496.86,1103.89 L502.85,1104.66 L508.85,1105.43 L514.84,1106.2 L520.83,1106.96 L526.83,1107.73 L532.82,1108.49 L538.82,1109.24 L544.81,1110.0 L550.8,1110.75 L556.8,1111.5 L562.79,1112.25 L568.79,1113.0 L574.78,1113.74 L580.77,1114.48 L586.77,1115.22 L592.76,1115.96 L598.76,1116.69 L604.75,1117.42 L610.74,1118.15 L616.74,1118.88 L622.73,1119.61 L628.73,1120.33 L634.72,1121.05 L640.71,1121.77 L646.71,1122.48 L652.7,1123.2 L658.7,1123.91 L664.69,1124.62 L670.68,1125.32 L676.68,1126.03 L682.67,1126.73 L688.67,1127.43 L694.66,1128.13 L700.65,1128.82 L706.65,1129.52 L712.64,1130.21 L718.64,1130.9 L724.63,1131.59 L730.62,1132.27 L736.62,1132.95 L742.61,1133.63 L748.61,1134.31 L754.6,1134.99 L760.59,1135.66 L766.59,1136.33 L772.58,1137.0 L778.58,1137.67 L784.57,1138.34 L790.56,1139.0 L796.56,1139.66 L802.55,1140.32 L808.55,1140.98 L814.54,1141.63 L820.53,1142.28 L826.53,1142.94 L832.52,1143.58 L838.52,1144.23 L844.51,1144.88 L850.5,1145.52 L856.5,1146.16 L862.49,1146.8 L868.49,1147.43 L874.48,1148.07 L880.47,1148.7 L886.47,1149.33 L892.46,1149.96 L898.46,1150.59 L904.45,1151.21 L910.44,1151.83 L916.44,1152.45 L922.43,1153.07 L928.43,1153.69 L934.42,1154.3 L940.41,1154.92 L945.66,1155.45" stroke="#141414" stroke-width="2.1" fill="none" stroke-linejoin="round"/>
<path d="M245.86,1345.95 L304.3,1345.95 L305.8,1318.21 L307.3,1315.66 L308.8,1313.15 L310.3,1310.66 L311.79,1308.2 L313.29,1305.77 L314.79,1303.36 L316.29,1300.98 L317.79,1298.63 L319.29,1296.3 L320.79,1294.0 L322.28,1291.72 L323.78,1289.47 L325.28,1287.25 L326.78,1285.05 L328.28,1282.87 L329.78,1280.72 L331.27,1278.59 L332.77,1276.49 L334.27,1274.41 L335.77,1272.35 L337.27,1270.31 L338.77,1268.3 L340.27,1266.31 L341.76,1264.34 L343.26,1262.4 L344.76,1260.47 L346.26,1258.57 L347.76,1256.69 L349.26,1254.83 L350.75,1252.99 L352.25,1251.17 L353.75,1249.37 L355.25,1247.59 L356.75,1245.83 L358.25,1244.09 L359.75,1242.37 L361.24,1240.66 L362.74,1238.98 L364.24,1237.32 L365.74,1235.67 L367.24,1234.04 L368.74,1232.43 L370.24,1230.84 L371.73,1229.27 L373.23,1227.71 L374.73,1226.17 L376.23,1224.65 L377.73,1223.14 L379.23,1221.66 L380.73,1220.18 L382.22,1218.73 L383.72,1217.29 L385.22,1215.87 L386.72,1214.46 L388.22,1213.07 L389.72,1211.69 L391.21,1210.33 L392.71,1208.98 L394.21,1207.65 L395.71,1206.33 L397.21,1205.03 L398.71,1203.75 L400.21,1202.47 L401.7,1201.21 L403.2,1199.97 L404.7,1198.74 L406.2,1197.52 L407.7,1196.32 L409.2,1195.13 L410.69,1193.95 L412.19,1192.78 L413.69,1191.63 L415.19,1190.49 L416.69,1189.37 L418.19,1188.25 L419.69,1187.15 L421.18,1186.06 L422.68,1184.99 L424.18,1183.92 L425.68,1182.87 L427.18,1181.83 L428.68,1180.8 L430.18,1179.78 L431.67,1178.77 L433.17,1177.78 L434.67,1176.79 L436.17,1175.82 L437.67,1174.86 L439.17,1173.91 L440.67,1172.96 L442.16,1172.03 L443.66,1171.11 L445.16,1170.2 L446.66,1169.3 L448.16,1168.41 L449.66,1167.53 L451.15,1166.66 L452.65,1165.8 L454.15,1164.95 L455.65,1164.1 L457.15,1163.27 L458.65,1162.45 L460.15,1161.63 L461.64,1160.83 L463.14,1160.03 L464.64,1159.24 L466.14,1158.46 L467.64,1157.69 L469.14,1156.93 L470.63,1156.18 L472.13,1155.43 L473.63,1154.7 L475.13,1153.97 L476.63,1153.25 L478.13,1152.54 L479.63,1151.83 L481.12,1151.14 L484.87,1180.66 L490.86,1181.2 L496.86,1181.73 L502.85,1182.26 L508.85,1182.79 L514.84,1183.31 L520.83,1183.84 L526.83,1184.36 L532.82,1184.88 L538.82,1185.41 L544.81,1185.92 L550.8,1186.44 L556.8,1186.96 L562.79,1187.47 L568.79,1187.98 L574.78,1188.49 L580.77,1189.0 L586.77,1189.51 L592.76,1190.01 L598.76,1190.52 L604.75,1191.02 L610.74,1191.52 L616.74,1192.02 L622.73,1192.52 L628.73,1193.01 L634.72,1193.51 L640.71,1194.0 L646.71,1194.49 L652.7,1194.98 L658.7,1195.47 L664.69,1195.96 L670.68,1196.44 L676.68,1196.93 L682.67,1197.41 L688.67,1197.89 L694.66,1198.37 L700.65,1198.84 L706.65,1199.32 L712.64,1199.79 L718.64,1200.27 L724.63,1200.74 L730.62,1201.21 L736.62,1201.68 L742.61,1202.14 L748.61,1202.61 L754.6,1203.07 L760.59,1203.53 L766.59,1203.99 L772.58,1204.45 L778.58,1204.91 L784.57,1205.37 L790.56,1205.82 L796.56,1206.28 L802.55,1206.73 L808.55,1207.18 L814.54,1207.63 L820.53,1208.08 L826.53,1208.52 L832.52,1208.97 L838.52,1209.41 L844.51,1209.85 L850.5,1210.29 L856.5,1210.73 L862.49,1211.17 L868.49,1211.61 L874.48,1212.04 L880.47,1212.47 L886.47,1212.91 L892.46,1213.34 L898.46,1213.77 L904.45,1214.2 L910.44,1214.62 L916.44,1215.05 L922.43,1215.47 L928.43,1215.89 L934.42,1216.32 L940.41,1216.74 L945.66,1217.1" stroke="#141414" stroke-width="2.1" fill="none" stroke-linejoin="round"/>
<path d="M245.86,1345.95 L304.3,1345.95 L305.8,1324.37 L307.3,1322.97 L308.8,1321.58 L310.3,1320.2 L311.79,1318.83 L313.29,1317.48 L314.79,1316.13 L316.29,1314.8 L317.79,1313.48 L319.29,1312.18 L320.79,1310.88 L322.28,1309.6 L323.78,1308.33 L325.28,1307.07 L326.78,1305.82 L328.28,1304.58 L329.78,1303.36 L331.27,1302.14 L332.77,1300.94 L334.27,1299.75 L335.77,1298.56 L337.27,1297.39 L338.77,1296.23 L340.27,1295.08 L341.76,1293.94 L343.26,1292.81 L344.76,1291.69 L346.26,1290.58 L347.76,1289.48 L349.26,1288.39 L350.75,1287.31 L352.25,1286.24 L353.75,1285.18 L355.25,1284.13 L356.75,1283.09 L358.25,1282.06 L359.75,1281.04 L361.24,1280.02 L362.74,1279.02 L364.24,1278.02 L365.74,1277.04 L367.24,1276.06 L368.74,1275.09 L370.24,1274.13 L371.73,1273.18 L373.23,1272.24 L374.73,1271.31 L376.23,1270.38 L377.73,1269.46 L379.23,1268.56 L380.73,1267.65 L382.22,1266.76 L383.72,1265.88 L385.22,1265.0 L386.72,1264.13 L388.22,1263.27 L389.72,1262.42 L391.21,1261.58 L392.71,1260.74 L394.21,1259.91 L395.71,1259.09 L397.21,1258.27 L398.71,1257.46 L400.21,1256.66 L401.7,1255.87 L403.2,1255.08 L404.7,1254.3 L406.2,1253.53 L407.7,1252.77 L409.2,1252.01 L410.69,1251.26 L412.19,1250.51 L413.69,1249.78 L415.19,1249.05 L416.69,1248.32 L418.19,1247.6 L419.69,1246.89 L421.18,1246.19 L422.68,1245.49 L424.18,1244.8 L425.68,1244.11 L427.18,1243.43 L428.68,1242.76 L430.18,1242.09 L431.67,1241.43 L433.17,1240.77 L434.67,1240.12 L436.17,1239.48 L437.67,1238.84 L439.17,1238.21 L440.67,1237.58 L442.16,1236.96 L443.66,1236.35 L445.16,1235.74 L446.66,1235.13 L448.16,1234.54 L449.66,1233.94 L451.15,1233.35 L452.65,1232.77 L454.15,1232.19 L455.65,1231.62 L457.15,1231.06 L458.65,1230.49 L460.15,1229.94 L461.64,1229.39 L463.14,1228.84 L464.64,1228.3 L466.14,1227.76 L467.64,1227.23 L469.14,1226.7 L470.63,1226.18 L472.13,1225.66 L473.63,1225.15 L475.13,1224.64 L476.63,1224.13 L478.13,1223.64 L479.63,1223.14 L481.12,1222.65 L484.87,1247.52 L490.86,1247.84 L496.86,1248.16 L502.85,1248.49 L508.85,1248.81 L514.84,1249.13 L520.83,1249.45 L526.83,1249.77 L532.82,1250.08 L538.82,1250.4 L544.81,1250.71 L550.8,1251.03 L556.8,1251.34 L562.79,1251.65 L568.79,1251.96 L574.78,1252.27 L580.77,1252.58 L586.77,1252.89 L592.76,1253.2 L598.76,1253.5 L604.75,1253.81 L610.74,1254.11 L616.74,1254.42 L622.73,1254.72 L628.73,1255.02 L634.72,1255.32 L640.71,1255.62 L646.71,1255.92 L652.7,1256.21 L658.7,1256.51 L664.69,1256.81 L670.68,1257.1 L676.68,1257.39 L682.67,1257.69 L688.67,1257.98 L694.66,1258.27 L700.65,1258.56 L706.65,1258.85 L712.64,1259.13 L718.64,1259.42 L724.63,1259.71 L730.62,1259.99 L736.62,1260.28 L742.61,1260.56 L748.61,1260.84 L754.6,1261.12 L760.59,1261.4 L766.59,1261.68 L772.58,1261.96 L778.58,1262.24 L784.57,1262.52 L790.56,1262.79 L796.56,1263.07 L802.55,1263.34 L808.55,1263.61 L814.54,1263.89 L820.53,1264.16 L826.53,1264.43 L832.52,1264.7 L838.52,1264.97 L844.51,1265.23 L850.5,1265.5 L856.5,1265.77 L862.49,1266.03 L868.49,1266.3 L874.48,1266.56 L880.47,1266.82 L886.47,1267.09 L892.46,1267.35 L898.46,1267.61 L904.45,1267.87 L910.44,1268.13 L916.44,1268.38 L922.43,1268.64 L928.43,1268.9 L934.42,1269.15 L940.41,1269.41 L945.66,1269.63" stroke="#141414" stroke-width="2.1" fill="none" stroke-linejoin="round"/>
<path d="M245.86,1345.95 L304.3,1345.95 L305.8,1329.31 L307.3,1328.51 L308.8,1327.72 L310.3,1326.93 L311.79,1326.16 L313.29,1325.39 L314.79,1324.63 L316.29,1323.87 L317.79,1323.13 L319.29,1322.39 L320.79,1321.65 L322.28,1320.93 L323.78,1320.21 L325.28,1319.49 L326.78,1318.79 L328.28,1318.09 L329.78,1317.39 L331.27,1316.7 L332.77,1316.02 L334.27,1315.35 L335.77,1314.68 L337.27,1314.02 L338.77,1313.36 L340.27,1312.71 L341.76,1312.07 L343.26,1311.43 L344.76,1310.79 L346.26,1310.17 L347.76,1309.55 L349.26,1308.93 L350.75,1308.32 L352.25,1307.72 L353.75,1307.12 L355.25,1306.53 L356.75,1305.94 L358.25,1305.36 L359.75,1304.78 L361.24,1304.21 L362.74,1303.64 L364.24,1303.08 L365.74,1302.53 L367.24,1301.98 L368.74,1301.43 L370.24,1300.89 L371.73,1300.36 L373.23,1299.83 L374.73,1299.3 L376.23,1298.78 L377.73,1298.26 L379.23,1297.75 L380.73,1297.25 L382.22,1296.75 L383.72,1296.25 L385.22,1295.76 L386.72,1295.27 L388.22,1294.78 L389.72,1294.31 L391.21,1293.83 L392.71,1293.36 L394.21,1292.9 L395.71,1292.43 L397.21,1291.98 L398.71,1291.52 L400.21,1291.07 L401.7,1290.63 L403.2,1290.19 L404.7,1289.75 L406.2,1289.32 L407.7,1288.89 L409.2,1288.47 L410.69,1288.05 L412.19,1287.63 L413.69,1287.22 L415.19,1286.81 L416.69,1286.4 L418.19,1286.0 L419.69,1285.6 L421.18,1285.21 L422.68,1284.82 L424.18,1284.43 L425.68,1284.05 L427.18,1283.67 L428.68,1283.29 L430.18,1282.92 L431.67,1282.55 L433.17,1282.18 L434.67,1281.82 L436.17,1281.46 L437.67,1281.1 L439.17,1280.75 L440.67,1280.4 L442.16,1280.06 L443.66,1279.71 L445.16,1279.37 L446.66,1279.04 L448.16,1278.7 L449.66,1278.37 L451.15,1278.04 L452.65,1277.72 L454.15,1277.4 L455.65,1277.08 L457.15,1276.76 L458.65,1276.45 L460.15,1276.14 L461.64,1275.84 L463.14,1275.53 L464.64,1275.23 L466.14,1274.93 L467.64,1274.64 L469.14,1274.34 L470.63,1274.05 L472.13,1273.76 L473.63,1273.48 L475.13,1273.2 L476.63,1272.92 L478.13,1272.64 L479.63,1272.37 L481.12,1272.09 L484.87,1292.29 L490.86,1292.46 L496.86,1292.64 L502.85,1292.81 L508.85,1292.98 L514.84,1293.14 L520.83,1293.31 L526.83,1293.48 L532.82,1293.65 L538.82,1293.82 L544.81,1293.98 L550.8,1294.15 L556.8,1294.31 L562.79,1294.48 L568.79,1294.64 L574.78,1294.81 L580.77,1294.97 L586.77,1295.13 L592.76,1295.3 L598.76,1295.46 L604.75,1295.62 L610.74,1295.78 L616.74,1295.94 L622.73,1296.1 L628.73,1296.26 L634.72,1296.42 L640.71,1296.58 L646.71,1296.74 L652.7,1296.89 L658.7,1297.05 L664.69,1297.21 L670.68,1297.36 L676.68,1297.52 L682.67,1297.67 L688.67,1297.83 L694.66,1297.98 L700.65,1298.14 L706.65,1298.29 L712.64,1298.44 L718.64,1298.59 L724.63,1298.75 L730.62,1298.9 L736.62,1299.05 L742.61,1299.2 L748.61,1299.35 L754.6,1299.5 L760.59,1299.65 L766.59,1299.8 L772.58,1299.94 L778.58,1300.09 L784.57,1300.24 L790.56,1300.39 L796.56,1300.53 L802.55,1300.68 L808.55,1300.82 L814.54,1300.97 L820.53,1301.11 L826.53,1301.26 L832.52,1301.4 L838.52,1301.54 L844.51,1301.69 L850.5,1301.83 L856.5,1301.97 L862.49,1302.11 L868.49,1302.25 L874.48,1302.39 L880.47,1302.53 L886.47,1302.67 L892.46,1302.81 L898.46,1302.95 L904.45,1303.09 L910.44,1303.23 L916.44,1303.36 L922.43,1303.5 L928.43,1303.64 L934.42,1303.77 L940.41,1303.91 L945.66,1304.03" stroke="#141414" stroke-width="2.1" fill="none" stroke-linejoin="round"/>
<path d="M245.86,1345.95 L304.3,1345.95 L305.8,1334.24 L307.3,1333.86 L308.8,1333.49 L310.3,1333.11 L311.79,1332.75 L313.29,1332.38 L314.79,1332.02 L316.29,1331.66 L317.79,1331.3 L319.29,1330.95 L320.79,1330.59 L322.28,1330.25 L323.78,1329.9 L325.28,1329.56 L326.78,1329.22 L328.28,1328.88 L329.78,1328.54 L331.27,1328.21 L332.77,1327.88 L334.27,1327.55 L335.77,1327.23 L337.27,1326.91 L338.77,1326.59 L340.27,1326.27 L341.76,1325.95 L343.26,1325.64 L344.76,1325.33 L346.26,1325.02 L347.76,1324.72 L349.26,1324.42 L350.75,1324.11 L352.25,1323.82 L353.75,1323.52 L355.25,1323.23 L356.75,1322.94 L358.25,1322.65 L359.75,1322.36 L361.24,1322.08 L362.74,1321.8 L364.24,1321.52 L365.74,1321.24 L367.24,1320.96 L368.74,1320.69 L370.24,1320.42 L371.73,1320.15 L373.23,1319.88 L374.73,1319.62 L376.23,1319.35 L377.73,1319.09 L379.23,1318.83 L380.73,1318.58 L382.22,1318.32 L383.72,1318.07 L385.22,1317.82 L386.72,1317.57 L388.22,1317.32 L389.72,1317.08 L391.21,1316.84 L392.71,1316.6 L394.21,1316.36 L395.71,1316.12 L397.21,1315.88 L398.71,1315.65 L400.21,1315.42 L401.7,1315.19 L403.2,1314.96 L404.7,1314.73 L406.2,1314.51 L407.7,1314.29 L409.2,1314.07 L410.69,1313.85 L412.19,1313.63 L413.69,1313.41 L415.19,1313.2 L416.69,1312.99 L418.19,1312.78 L419.69,1312.57 L421.18,1312.36 L422.68,1312.15 L424.18,1311.95 L425.68,1311.75 L427.18,1311.54 L428.68,1311.34 L430.18,1311.15 L431.67,1310.95 L433.17,1310.76 L434.67,1310.56 L436.17,1310.37 L437.67,1310.18 L439.17,1309.99 L440.67,1309.8 L442.16,1309.62 L443.66,1309.43 L445.16,1309.25 L446.66,1309.07 L448.16,1308.89 L449.66,1308.71 L451.15,1308.53 L452.65,1308.36 L454.15,1308.18 L455.65,1308.01 L457.15,1307.84 L458.65,1307.67 L460.15,1307.5 L461.64,1307.33 L463.14,1307.16 L464.64,1307.0 L466.14,1306.83 L467.64,1306.67 L469.14,1306.51 L470.63,1306.35 L472.13,1306.19 L473.63,1306.03 L475.13,1305.88 L476.63,1305.72 L478.13,1305.57 L479.63,1305.41 L481.12,1305.26 L484.87,1317.58 L490.86,1317.67 L496.86,1317.75 L502.85,1317.84 L508.85,1317.92 L514.84,1318.01 L520.83,1318.09 L526.83,1318.18 L532.82,1318.26 L538.82,1318.34 L544.81,1318.43 L550.8,1318.51 L556.8,1318.59 L562.79,1318.68 L568.79,1318.76 L574.78,1318.84 L580.77,1318.92 L586.77,1319.01 L592.76,1319.09 L598.76,1319.17 L604.75,1319.25 L610.74,1319.33 L616.74,1319.41 L622.73,1319.49 L628.73,1319.57 L634.72,1319.65 L640.71,1319.73 L646.71,1319.81 L652.7,1319.89 L658.7,1319.97 L664.69,1320.05 L670.68,1320.13 L676.68,1320.21 L682.67,1320.29 L688.67,1320.36 L694.66,1320.44 L700.65,1320.52 L706.65,1320.6 L712.64,1320.67 L718.64,1320.75 L724.63,1320.83 L730.62,1320.9 L736.62,1320.98 L742.61,1321.06 L748.61,1321.13 L754.6,1321.21 L760.59,1321.28 L766.59,1321.36 L772.58,1321.43 L778.58,1321.51 L784.57,1321.58 L790.56,1321.66 L796.56,1321.73 L802.55,1321.81 L808.55,1321.88 L814.54,1321.95 L820.53,1322.03 L826.53,1322.1 L832.52,1322.17 L838.52,1322.24 L844.51,1322.32 L850.5,1322.39 L856.5,1322.46 L862.49,1322.53 L868.49,1322.6 L874.48,1322.68 L880.47,1322.75 L886.47,1322.82 L892.46,1322.89 L898.46,1322.96 L904.45,1323.03 L910.44,1323.1 L916.44,1323.17 L922.43,1323.24 L928.43,1323.31 L934.42,1323.38 L940.41,1323.45 L945.66,1323.51" stroke="#141414" stroke-width="2.1" fill="none" stroke-linejoin="round"/>
<path d="M245.86,1345.95 L304.3,1345.95 L305.8,1339.66 L307.3,1339.5 L308.8,1339.34 L310.3,1339.18 L311.79,1339.01 L313.29,1338.86 L314.79,1338.7 L316.29,1338.54 L317.79,1338.38 L319.29,1338.23 L320.79,1338.07 L322.28,1337.92 L323.78,1337.77 L325.28,1337.62 L326.78,1337.47 L328.28,1337.32 L329.78,1337.17 L331.27,1337.02 L332.77,1336.87 L334.27,1336.73 L335.77,1336.58 L337.27,1336.44 L338.77,1336.3 L340.27,1336.15 L341.76,1336.01 L343.26,1335.87 L344.76,1335.73 L346.26,1335.59 L347.76,1335.46 L349.26,1335.32 L350.75,1335.18 L352.25,1335.05 L353.75,1334.91 L355.25,1334.78 L356.75,1334.65 L358.25,1334.52 L359.75,1334.38 L361.24,1334.25 L362.74,1334.12 L364.24,1334.0 L365.74,1333.87 L367.24,1333.74 L368.74,1333.62 L370.24,1333.49 L371.73,1333.37 L373.23,1333.24 L374.73,1333.12 L376.23,1333.0 L377.73,1332.87 L379.23,1332.75 L380.73,1332.63 L382.22,1332.51 L383.72,1332.4 L385.22,1332.28 L386.72,1332.16 L388.22,1332.05 L389.72,1331.93 L391.21,1331.82 L392.71,1331.7 L394.21,1331.59 L395.71,1331.48 L397.21,1331.36 L398.71,1331.25 L400.21,1331.14 L401.7,1331.03 L403.2,1330.92 L404.7,1330.81 L406.2,1330.71 L407.7,1330.6 L409.2,1330.49 L410.69,1330.39 L412.19,1330.28 L413.69,1330.18 L415.19,1330.07 L416.69,1329.97 L418.19,1329.87 L419.69,1329.77 L421.18,1329.67 L422.68,1329.56 L424.18,1329.46 L425.68,1329.37 L427.18,1329.27 L428.68,1329.17 L430.18,1329.07 L431.67,1328.97 L433.17,1328.88 L434.67,1328.78 L436.17,1328.69 L437.67,1328.59 L439.17,1328.5 L440.67,1328.41 L442.16,1328.31 L443.66,1328.22 L445.16,1328.13 L446.66,1328.04 L448.16,1327.95 L449.66,1327.86 L451.15,1327.77 L452.65,1327.68 L454.15,1327.59 L455.65,1327.51 L457.15,1327.42 L458.65,1327.33 L460.15,1327.25 L461.64,1327.16 L463.14,1327.08 L464.64,1326.99 L466.14,1326.91 L467.64,1326.83 L469.14,1326.74 L470.63,1326.66 L472.13,1326.58 L473.63,1326.5 L475.13,1326.42 L476.63,1326.34 L478.13,1326.26 L479.63,1326.18 L481.12,1326.1 L484.87,1332.38 L490.86,1332.42 L496.86,1332.45 L502.85,1332.49 L508.85,1332.52 L514.84,1332.56 L520.83,1332.59 L526.83,1332.63 L532.82,1332.66 L538.82,1332.7 L544.81,1332.73 L550.8,1332.76 L556.8,1332.8 L562.79,1332.83 L568.79,1332.87 L574.78,1332.9 L580.77,1332.93 L586.77,1332.97 L592.76,1333.0 L598.76,1333.03 L604.75,1333.07 L610.74,1333.1 L616.74,1333.13 L622.73,1333.17 L628.73,1333.2 L634.72,1333.23 L640.71,1333.27 L646.71,1333.3 L652.7,1333.33 L658.7,1333.37 L664.69,1333.4 L670.68,1333.43 L676.68,1333.46 L682.67,1333.5 L688.67,1333.53 L694.66,1333.56 L700.65,1333.59 L706.65,1333.63 L712.64,1333.66 L718.64,1333.69 L724.63,1333.72 L730.62,1333.75 L736.62,1333.79 L742.61,1333.82 L748.61,1333.85 L754.6,1333.88 L760.59,1333.91 L766.59,1333.94 L772.58,1333.98 L778.58,1334.01 L784.57,1334.04 L790.56,1334.07 L796.56,1334.1 L802.55,1334.13 L808.55,1334.16 L814.54,1334.19 L820.53,1334.22 L826.53,1334.26 L832.52,1334.29 L838.52,1334.32 L844.51,1334.35 L850.5,1334.38 L856.5,1334.41 L862.49,1334.44 L868.49,1334.47 L874.48,1334.5 L880.47,1334.53 L886.47,1334.56 L892.46,1334.59 L898.46,1334.62 L904.45,1334.65 L910.44,1334.68 L916.44,1334.71 L922.43,1334.74 L928.43,1334.77 L934.42,1334.8 L940.41,1334.83 L945.66,1334.85" stroke="#141414" stroke-width="2.1" fill="none" stroke-linejoin="round"/>
<text x="927.88" y="941.4" font-size="69.53" textLength="43.71" lengthAdjust="spacingAndGlyphs">E</text>
<text x="977.15" y="1009.9" font-size="32.58" textLength="162.76" lengthAdjust="spacingAndGlyphs">Bio-NP-RU</text>
<text x="991.44" y="1064.1" font-size="31.43" textLength="151.73" lengthAdjust="spacingAndGlyphs">mSA-RBD</text>
<text x="1189.54" y="1011.7" font-size="39.27" textLength="20.09" lengthAdjust="spacingAndGlyphs">1</text>
<text x="1303.46" y="1011.33" font-size="37.46" textLength="22.83" lengthAdjust="spacingAndGlyphs">0</text>
<text x="1392.9" y="1011.22" font-size="37.88" textLength="72.77" lengthAdjust="spacingAndGlyphs">0.25</text>
<text x="1517.2" y="1011.22" font-size="37.88" textLength="52.03" lengthAdjust="spacingAndGlyphs">0.5</text>
<text x="1640.08" y="1011.7" font-size="39.85" textLength="20.39" lengthAdjust="spacingAndGlyphs">1</text>
<text x="1727.56" y="1009.54" font-size="38.4" textLength="47.75" lengthAdjust="spacingAndGlyphs">ug</text>
<text x="1189.84" y="1069.31" font-size="38.73" textLength="21.66" lengthAdjust="spacingAndGlyphs">0</text>
<text x="1302.23" y="1069.7" font-size="39.85" textLength="20.39" lengthAdjust="spacingAndGlyphs">1</text>
<text x="1413.99" y="1069.9" font-size="40.58" textLength="20.76" lengthAdjust="spacingAndGlyphs">1</text>
<text x="1526.99" y="1069.9" font-size="40.58" textLength="20.76" lengthAdjust="spacingAndGlyphs">1</text>
<text x="1640.08" y="1069.7" font-size="39.85" textLength="20.39" lengthAdjust="spacingAndGlyphs">1</text>
<text x="1727.56" y="1068.68" font-size="37.73" textLength="47.75" lengthAdjust="spacingAndGlyphs">ug</text>
<rect x="1155.5" y="1090.3" width="544.5" height="126.4" fill="#f4f1fc"/>
<g clip-path="url(#gelE1)">
<rect x="1160" y="1095" width="100" height="110" fill="#f0ecfb" filter="url(#b6)"/>
<rect x="1270" y="1125" width="77" height="65" fill="#ebe5fa" filter="url(#b3)"/>
<rect x="1370" y="1092" width="82" height="93" fill="#ebe5fa" filter="url(#b3)"/>
<rect x="1480" y="1092" width="85" height="88" fill="#ebe5fa" filter="url(#b3)"/>
<rect x="1588" y="1092" width="94" height="83" fill="#ebe5fa" filter="url(#b3)"/>
<rect x="1271" y="1157.0" width="75" height="18" rx="6" fill="#c6b4f6" opacity="0.9" filter="url(#b4)"/>
<rect x="1271" y="1139.0" width="75" height="14" rx="6" fill="#e0d6fa" opacity="0.8" filter="url(#b4)"/>
<rect x="1371" y="1152.0" width="80" height="16" rx="6" fill="#cbbaf7" opacity="0.9" filter="url(#b4)"/>
<rect x="1371" y="1131.0" width="80" height="14" rx="6" fill="#e6ddfb" opacity="0.7" filter="url(#b4)"/>
<rect x="1481" y="1149.0" width="83" height="16" rx="6" fill="#c2aff6" opacity="0.95" filter="url(#b4)"/>
<rect x="1481" y="1106.0" width="83" height="14" rx="6" fill="#cfc0f7" opacity="0.9" filter="url(#b4)"/>
<rect x="1590" y="1100.0" width="82" height="16" rx="6" fill="#c0abf6" opacity="0.95" filter="url(#b4)"/>
<rect x="1590" y="1143.5" width="90" height="15" rx="6" fill="#d8ccf9" opacity="0.85" filter="url(#b4)"/>
<rect x="1372" y="1150" width="9" height="20" fill="#b29cf3" opacity="0.75" filter="url(#b3)"/>
<rect x="1481" y="1148" width="9" height="19" fill="#b29cf3" opacity="0.75" filter="url(#b3)"/>
<rect x="1590" y="1142" width="9" height="19" fill="#b29cf3" opacity="0.75" filter="url(#b3)"/>
<rect x="1482" y="1104" width="9" height="16" fill="#b29cf3" opacity="0.75" filter="url(#b3)"/>
<rect x="1590" y="1100" width="9" height="17" fill="#b29cf3" opacity="0.75" filter="url(#b3)"/>
<line x1="1372" y1="1095" x2="1370" y2="1178" stroke="#c4b4f4" stroke-width="2" opacity="0.7" filter="url(#b1)"/>
<line x1="1484" y1="1093" x2="1480" y2="1176" stroke="#c4b4f4" stroke-width="2" opacity="0.7" filter="url(#b1)"/>
<line x1="1592" y1="1093" x2="1589" y2="1172" stroke="#c4b4f4" stroke-width="2" opacity="0.7" filter="url(#b1)"/>
<line x1="1676" y1="1093" x2="1690" y2="1170" stroke="#c4b4f4" stroke-width="2" opacity="0.7" filter="url(#b1)"/>
</g>
<rect x="1155.5" y="1090.3" width="544.5" height="126.4" fill="none" stroke="#bfbfc6" stroke-width="2.2"/>
<rect x="1154.5" y="1229.5" width="545" height="125.5" fill="#ededed"/>
<g clip-path="url(#gelE2)">
<rect x="1160" y="1236" width="130" height="14" fill="#e3e3e3" filter="url(#b4)"/>
<path d="M1292,1238 Q1330,1235 1368,1238 L1369,1270 L1292,1270 Z" fill="url(#wl2a)" filter="url(#b2)"/>
<path d="M1292,1268 Q1330,1265 1369,1268 Q1373,1285 1371,1302 Q1372,1316 1362,1316 Q1330,1311 1298,1316 Q1289,1316 1290,1302 Q1288,1285 1292,1268 Z" fill="url(#wl2b)" filter="url(#b2)"/>
<path d="M1382,1239 Q1425,1235 1470,1240 L1472,1292 Q1473,1306 1462,1306 Q1425,1302 1390,1306 Q1380,1306 1380,1292 Z" fill="url(#wl3)" filter="url(#b2)"/>
<path d="M1483,1237 Q1523,1233 1563,1237 L1565,1285 Q1566,1297 1556,1297 Q1523,1294 1490,1297 Q1481,1297 1481,1285 Z" fill="url(#wl4)" filter="url(#b2)"/>
<path d="M1576,1237 Q1615,1231 1660,1234 Q1668,1240 1670,1250 L1679,1292 Q1672,1294 1660,1289 Q1620,1288 1580,1288 Q1574,1286 1574,1278 Z" fill="url(#wl5)" filter="url(#b2)"/>
<path d="M1578,1240 L1590,1240 L1590,1282 L1578,1282 Z" fill="#606060" opacity="0.6" filter="url(#b2)"/>
<path d="M1655,1236 Q1668,1240 1672,1260 L1679,1292 L1668,1290 L1660,1260 Z" fill="#5e5e5e" opacity="0.7" filter="url(#b2)"/>
</g>
<rect x="1154.5" y="1229.5" width="545" height="125.5" fill="none" stroke="#b9b9b9" stroke-width="2.2"/>
<text x="1720.0" y="1167.0" font-size="36.97" textLength="199.64" lengthAdjust="spacingAndGlyphs">Coomassie</text>
<text x="1720.58" y="1291.4" font-size="38.11" textLength="163.73" lengthAdjust="spacingAndGlyphs">Anti-RBD</text>
</svg>
</div>
</body></html>
